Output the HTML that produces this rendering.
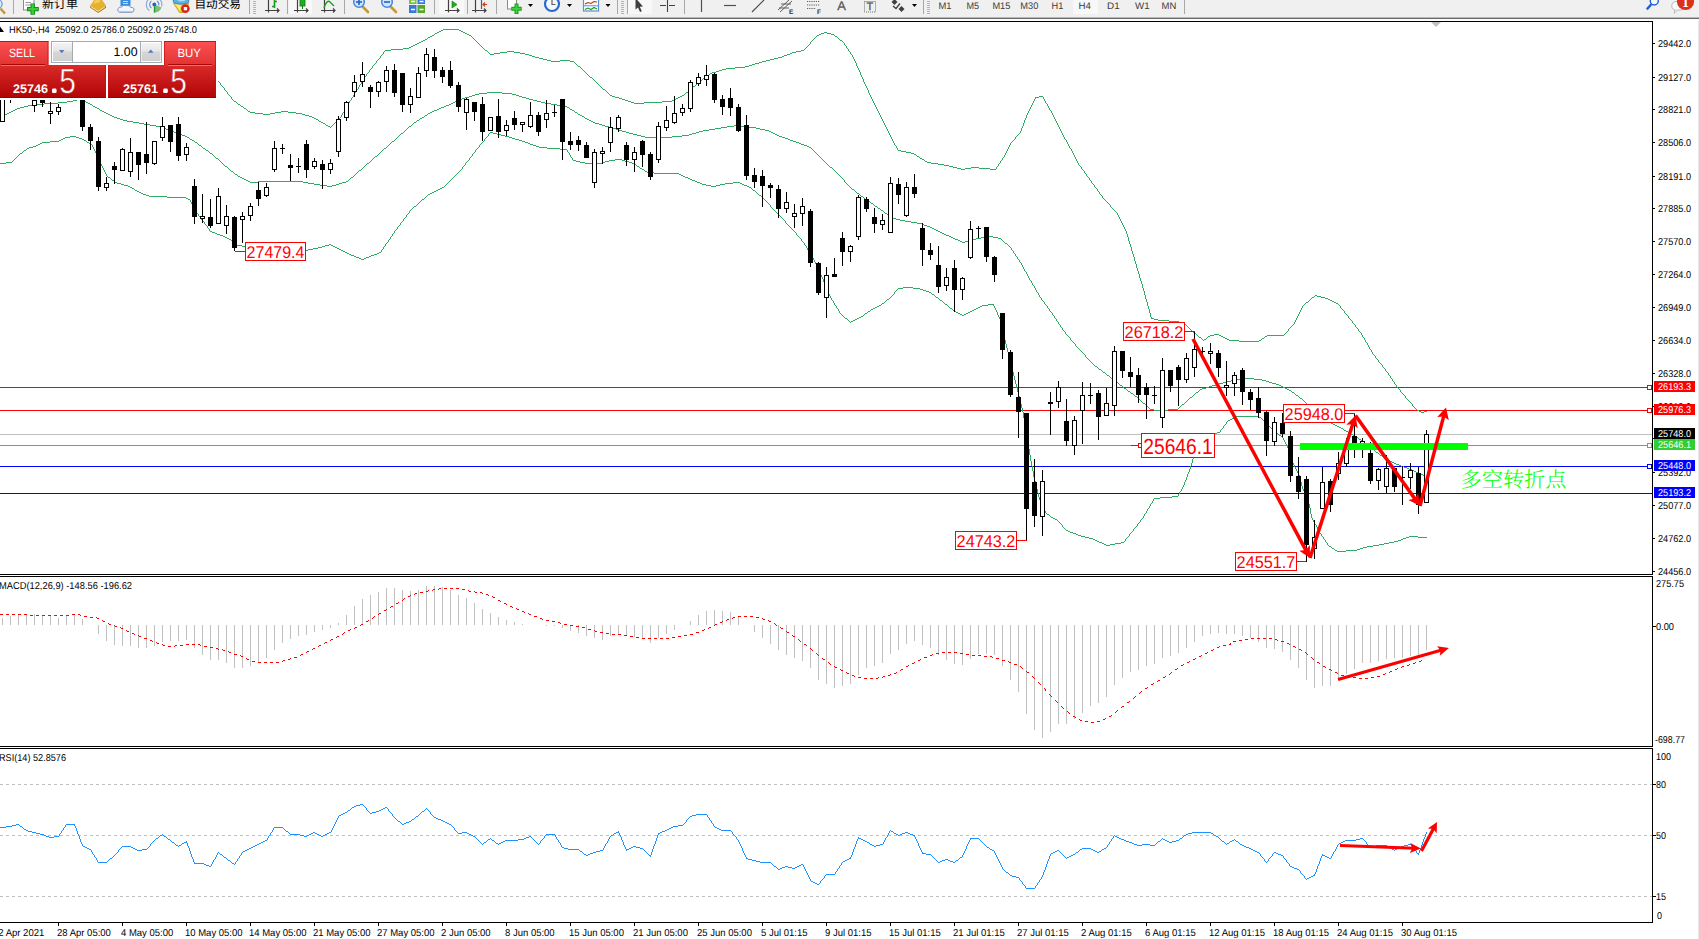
<!DOCTYPE html>
<html lang="zh"><head><meta charset="utf-8"><title>HK50-,H4</title>
<style>html,body{margin:0;padding:0;background:#fff;overflow:hidden}svg{display:block}</style></head>
<body>
<svg width="1699" height="939" viewBox="0 0 1699 939" font-family='"Liberation Sans", sans-serif' text-rendering="geometricPrecision" style="display:block">
<defs>
<linearGradient id="gTop" gradientUnits="userSpaceOnUse" x1="0" y1="41" x2="0" y2="65.5"><stop offset="0" stop-color="#fc5252"/><stop offset="1" stop-color="#e23232"/></linearGradient>
<linearGradient id="gBot" gradientUnits="userSpaceOnUse" x1="0" y1="65" x2="0" y2="98"><stop offset="0" stop-color="#da2a2a"/><stop offset="1" stop-color="#b00404"/></linearGradient>
<linearGradient id="gBtn" x1="0" y1="0" x2="0" y2="1"><stop offset="0" stop-color="#f4f4f4"/><stop offset="0.45" stop-color="#e6e6e6"/><stop offset="0.5" stop-color="#d6d6d6"/><stop offset="1" stop-color="#cfcfcf"/></linearGradient>
<clipPath id="cMain"><rect x="0" y="22" width="1652" height="552"/></clipPath>
<clipPath id="cMacd"><rect x="0" y="577" width="1652" height="169"/></clipPath>
<clipPath id="cRsi"><rect x="0" y="749" width="1652" height="173"/></clipPath>
</defs>
<rect width="1699" height="939" fill="#fff"/>
<g clip-path="url(#cMain)">
<g shape-rendering="crispEdges">
<rect x="0" y="387" width="1652" height="1" fill="#ff0000"/>
<rect x="0" y="410" width="1652" height="1" fill="#ff0000"/>
<rect x="0" y="434" width="1652" height="1" fill="#c0c0c0"/>
<rect x="0" y="445" width="1652" height="1" fill="#32cd32"/>
<rect x="0" y="466" width="1652" height="1" fill="#0000ff"/>
<rect x="0" y="493" width="1652" height="1" fill="#0000ff"/>
</g>
<path d="M443 29h16v1h-16zM441 30h2v1h-2zM459 30h2v1h-2zM439 31h2v1h-2zM461 31h2v1h-2zM437 32h2v1h-2zM463 32h2v1h-2zM824 32h3v1h-3zM435 33h2v1h-2zM465 33h2v1h-2zM821 33h3v1h-3zM827 33h4v1h-4zM467 34h2v1h-2zM819 34h2v1h-2zM831 34h3v1h-3zM432 35h2v1h-2zM469 35h2v1h-2zM817 35h2v1h-2zM430 36h2v1h-2zM835 36h2v1h-2zM428 37h2v1h-2zM425 39h2v1h-2zM423 40h2v1h-2zM840 40h2v1h-2zM421 41h2v1h-2zM419 42h2v1h-2zM417 43h2v1h-2zM415 44h2v1h-2zM413 45h2v1h-2zM411 46h2v1h-2zM409 47h2v1h-2zM403 48h6v1h-6zM391 49h12v1h-12zM385 50h6v1h-6zM485 50h2v1h-2zM801 50h3v1h-3zM507 51h7v1h-7zM796 51h5v1h-5zM500 52h7v1h-7zM514 52h6v1h-6zM792 52h4v1h-4zM494 53h6v1h-6zM520 53h5v1h-5zM790 53h2v1h-2zM490 54h4v1h-4zM525 54h4v1h-4zM787 54h3v1h-3zM529 55h3v1h-3zM784 55h3v1h-3zM532 56h3v1h-3zM782 56h2v1h-2zM535 57h4v1h-4zM778 57h4v1h-4zM539 58h4v1h-4zM774 58h4v1h-4zM543 59h4v1h-4zM770 59h4v1h-4zM547 60h4v1h-4zM560 60h10v1h-10zM766 60h4v1h-4zM551 61h9v1h-9zM570 61h4v1h-4zM762 61h4v1h-4zM759 62h3v1h-3zM755 63h4v1h-4zM752 64h3v1h-3zM749 65h3v1h-3zM578 66h2v1h-2zM745 66h4v1h-4zM735 67h10v1h-10zM726 68h9v1h-9zM722 69h4v1h-4zM719 70h3v1h-3zM716 71h3v1h-3zM712 72h4v1h-4zM710 73h2v1h-2zM707 75h2v1h-2zM590 77h2v1h-2zM703 78h2v1h-2zM699 81h2v1h-2zM693 86h2v1h-2zM603 89h2v1h-2zM686 92h2v1h-2zM610 95h2v1h-2zM682 95h2v1h-2zM612 96h3v1h-3zM680 96h2v1h-2zM1039 96h4v1h-4zM615 97h4v1h-4zM678 97h2v1h-2zM1035 97h4v1h-4zM619 98h3v1h-3zM676 98h2v1h-2zM622 99h3v1h-3zM674 99h2v1h-2zM625 100h3v1h-3zM672 100h2v1h-2zM234 101h2v1h-2zM628 101h3v1h-3zM662 101h10v1h-10zM631 102h3v1h-3zM644 102h18v1h-18zM634 103h10v1h-10zM238 104h2v1h-2zM241 106h2v1h-2zM244 108h2v1h-2zM248 111h2v1h-2zM281 111h7v1h-7zM250 112h5v1h-5zM275 112h6v1h-6zM288 112h8v1h-8zM255 113h8v1h-8zM270 113h5v1h-5zM296 113h6v1h-6zM263 114h7v1h-7zM302 114h3v1h-3zM305 115h4v1h-4zM309 116h3v1h-3zM312 117h2v1h-2zM314 118h2v1h-2zM316 119h2v1h-2zM319 121h2v1h-2zM321 122h2v1h-2zM323 123h2v1h-2zM326 125h2v1h-2zM328 126h2v1h-2zM898 150h3v1h-3zM901 151h5v1h-5zM906 152h5v1h-5zM911 153h3v1h-3zM914 154h2v1h-2zM917 156h2v1h-2zM920 158h2v1h-2zM922 159h2v1h-2zM925 161h2v1h-2zM927 162h4v1h-4zM931 163h7v1h-7zM938 164h6v1h-6zM944 165h5v1h-5zM949 166h4v1h-4zM953 167h4v1h-4zM971 167h8v1h-8zM957 168h4v1h-4zM965 168h6v1h-6zM979 168h11v1h-11zM961 169h4v1h-4zM990 169h6v1h-6zM1315 295h2v1h-2zM1317 296h4v1h-4zM1312 297h2v1h-2zM1321 297h4v1h-4zM1325 298h3v1h-3zM1328 299h2v1h-2zM1330 300h2v1h-2zM1332 301h2v1h-2zM1306 302h2v1h-2zM1334 302h2v1h-2zM1336 303h2v1h-2zM1151 318h3v1h-3zM1154 319h4v1h-4zM1158 320h11v1h-11zM1169 321h10v1h-10zM1179 322h2v1h-2zM1181 323h3v1h-3zM1184 324h2v1h-2zM1194 333h2v1h-2zM1214 334h5v1h-5zM1210 335h4v1h-4zM1219 335h2v1h-2zM1267 335h17v1h-17zM1208 336h2v1h-2zM1221 336h2v1h-2zM1265 336h2v1h-2zM1199 337h2v1h-2zM1223 337h2v1h-2zM1225 338h2v1h-2zM1262 338h2v1h-2zM1204 339h2v1h-2zM1227 339h2v1h-2zM1229 340h10v1h-10zM1259 340h2v1h-2zM1239 341h20v1h-20zM1417 410h2v1h-2zM1419 411h2v1h-2zM1424 411h3v1h-3zM1421 412h3v1h-3zM218 81h1v1h-1zM219 82h1v1h-1zM220 83h1v2h-1zM221 85h1v1h-1zM222 86h1v1h-1zM223 87h1v1h-1zM224 88h1v2h-1zM225 90h1v1h-1zM226 91h1v1h-1zM227 92h1v2h-1zM228 94h1v1h-1zM229 95h1v1h-1zM230 96h1v1h-1zM231 97h1v2h-1zM232 99h1v1h-1zM233 100h1v1h-1zM236 102h1v1h-1zM237 103h1v1h-1zM240 105h1v1h-1zM243 107h1v1h-1zM246 109h1v1h-1zM247 110h1v1h-1zM318 120h1v1h-1zM325 124h1v1h-1zM330 127h1v1h-1zM331 126h1v1h-1zM332 125h1v1h-1zM333 124h1v1h-1zM334 123h1v1h-1zM335 122h1v1h-1zM336 121h1v1h-1zM337 120h1v1h-1zM338 119h1v1h-1zM339 118h1v1h-1zM340 117h1v1h-1zM341 115h1v2h-1zM342 113h1v2h-1zM343 112h1v1h-1zM344 110h1v2h-1zM345 108h1v2h-1zM346 106h1v2h-1zM347 105h1v1h-1zM348 103h1v2h-1zM349 101h1v2h-1zM350 100h1v1h-1zM351 98h1v2h-1zM352 97h1v1h-1zM353 95h1v2h-1zM354 93h1v2h-1zM355 92h1v1h-1zM356 90h1v2h-1zM357 89h1v1h-1zM358 87h1v2h-1zM359 85h1v2h-1zM360 84h1v1h-1zM361 82h1v2h-1zM362 81h1v1h-1zM363 79h1v2h-1zM364 77h1v2h-1zM365 76h1v1h-1zM366 74h1v2h-1zM367 73h1v1h-1zM368 72h1v1h-1zM369 70h1v2h-1zM370 69h1v1h-1zM371 68h1v1h-1zM372 66h1v2h-1zM373 65h1v1h-1zM374 64h1v1h-1zM375 63h1v1h-1zM376 61h1v2h-1zM377 60h1v1h-1zM378 59h1v1h-1zM379 58h1v1h-1zM380 56h1v2h-1zM381 55h1v1h-1zM382 54h1v1h-1zM383 52h1v2h-1zM384 51h1v1h-1zM427 38h1v1h-1zM434 34h1v1h-1zM471 36h1v1h-1zM472 37h1v1h-1zM473 38h1v1h-1zM474 39h1v1h-1zM475 40h1v1h-1zM476 41h1v1h-1zM477 42h1v1h-1zM478 43h1v1h-1zM479 44h1v1h-1zM480 45h1v1h-1zM481 46h1v1h-1zM482 47h1v1h-1zM483 48h1v1h-1zM484 49h1v1h-1zM487 51h1v1h-1zM488 52h1v1h-1zM489 53h1v1h-1zM574 62h1v1h-1zM575 63h1v1h-1zM576 64h1v1h-1zM577 65h1v1h-1zM580 67h1v1h-1zM581 68h1v1h-1zM582 69h1v1h-1zM583 70h1v1h-1zM584 71h1v1h-1zM585 72h1v1h-1zM586 73h1v1h-1zM587 74h1v1h-1zM588 75h1v1h-1zM589 76h1v1h-1zM592 78h1v1h-1zM593 79h1v1h-1zM594 80h1v1h-1zM595 81h1v1h-1zM596 82h1v1h-1zM597 83h1v1h-1zM598 84h1v1h-1zM599 85h1v1h-1zM600 86h1v1h-1zM601 87h1v1h-1zM602 88h1v1h-1zM605 90h1v1h-1zM606 91h1v1h-1zM607 92h1v1h-1zM608 93h1v1h-1zM609 94h1v1h-1zM684 94h1v1h-1zM685 93h1v1h-1zM688 91h1v1h-1zM689 90h1v1h-1zM690 89h1v1h-1zM691 88h1v1h-1zM692 87h1v1h-1zM695 85h1v1h-1zM696 84h1v1h-1zM697 83h1v1h-1zM698 82h1v1h-1zM701 80h1v1h-1zM702 79h1v1h-1zM705 77h1v1h-1zM706 76h1v1h-1zM709 74h1v1h-1zM804 49h1v1h-1zM805 48h1v1h-1zM806 47h1v1h-1zM807 46h1v1h-1zM808 45h1v1h-1zM809 44h1v1h-1zM810 42h1v2h-1zM811 41h1v1h-1zM812 40h1v1h-1zM813 39h1v1h-1zM814 38h1v1h-1zM815 37h1v1h-1zM816 36h1v1h-1zM834 35h1v1h-1zM837 37h1v1h-1zM838 38h1v1h-1zM839 39h1v1h-1zM842 41h1v1h-1zM843 42h1v1h-1zM844 43h1v2h-1zM845 45h1v1h-1zM846 46h1v2h-1zM847 48h1v1h-1zM848 49h1v2h-1zM849 51h1v1h-1zM850 52h1v2h-1zM851 54h1v1h-1zM852 55h1v2h-1zM853 57h1v2h-1zM854 59h1v2h-1zM855 61h1v2h-1zM856 63h1v3h-1zM857 66h1v2h-1zM858 68h1v2h-1zM859 70h1v2h-1zM860 72h1v3h-1zM861 75h1v2h-1zM862 77h1v2h-1zM863 79h1v3h-1zM864 82h1v2h-1zM865 84h1v2h-1zM866 86h1v2h-1zM867 88h1v2h-1zM868 90h1v3h-1zM869 93h1v2h-1zM870 95h1v2h-1zM871 97h1v2h-1zM872 99h1v2h-1zM873 101h1v2h-1zM874 103h1v2h-1zM875 105h1v2h-1zM876 107h1v2h-1zM877 109h1v2h-1zM878 111h1v2h-1zM879 113h1v2h-1zM880 115h1v2h-1zM881 117h1v2h-1zM882 119h1v2h-1zM883 121h1v2h-1zM884 123h1v2h-1zM885 125h1v2h-1zM886 127h1v2h-1zM887 129h1v2h-1zM888 131h1v2h-1zM889 133h1v2h-1zM890 135h1v2h-1zM891 137h1v2h-1zM892 139h1v2h-1zM893 141h1v2h-1zM894 143h1v2h-1zM895 145h1v1h-1zM896 146h1v2h-1zM897 148h1v2h-1zM916 155h1v1h-1zM919 157h1v1h-1zM924 160h1v1h-1zM996 167h1v2h-1zM997 166h1v1h-1zM998 164h1v2h-1zM999 163h1v1h-1zM1000 161h1v2h-1zM1001 160h1v1h-1zM1002 158h1v2h-1zM1003 157h1v1h-1zM1004 155h1v2h-1zM1005 153h1v2h-1zM1006 151h1v2h-1zM1007 149h1v2h-1zM1008 147h1v2h-1zM1009 145h1v2h-1zM1010 143h1v2h-1zM1011 142h1v1h-1zM1012 141h1v1h-1zM1013 140h1v1h-1zM1014 139h1v1h-1zM1015 137h1v2h-1zM1016 136h1v1h-1zM1017 135h1v1h-1zM1018 134h1v1h-1zM1019 133h1v1h-1zM1020 131h1v2h-1zM1021 128h1v3h-1zM1022 126h1v2h-1zM1023 123h1v3h-1zM1024 120h1v3h-1zM1025 118h1v2h-1zM1026 115h1v3h-1zM1027 113h1v2h-1zM1028 111h1v2h-1zM1029 109h1v2h-1zM1030 107h1v2h-1zM1031 105h1v2h-1zM1032 103h1v2h-1zM1033 101h1v2h-1zM1034 99h1v2h-1zM1035 98h1v1h-1zM1043 97h1v2h-1zM1044 99h1v2h-1zM1045 101h1v2h-1zM1046 103h1v1h-1zM1047 104h1v2h-1zM1048 106h1v2h-1zM1049 108h1v2h-1zM1050 110h1v1h-1zM1051 111h1v2h-1zM1052 113h1v2h-1zM1053 115h1v2h-1zM1054 117h1v2h-1zM1055 119h1v2h-1zM1056 121h1v2h-1zM1057 123h1v2h-1zM1058 125h1v2h-1zM1059 127h1v2h-1zM1060 129h1v2h-1zM1061 131h1v2h-1zM1062 133h1v2h-1zM1063 135h1v2h-1zM1064 137h1v2h-1zM1065 139h1v1h-1zM1066 140h1v2h-1zM1067 142h1v2h-1zM1068 144h1v2h-1zM1069 146h1v2h-1zM1070 148h1v1h-1zM1071 149h1v2h-1zM1072 151h1v2h-1zM1073 153h1v2h-1zM1074 155h1v2h-1zM1075 157h1v2h-1zM1076 159h1v2h-1zM1077 161h1v2h-1zM1078 163h1v2h-1zM1079 165h1v1h-1zM1080 166h1v1h-1zM1081 167h1v2h-1zM1082 169h1v1h-1zM1083 170h1v1h-1zM1084 171h1v2h-1zM1085 173h1v1h-1zM1086 174h1v2h-1zM1087 176h1v1h-1zM1088 177h1v1h-1zM1089 178h1v2h-1zM1090 180h1v1h-1zM1091 181h1v2h-1zM1092 183h1v1h-1zM1093 184h1v1h-1zM1094 185h1v2h-1zM1095 187h1v1h-1zM1096 188h1v1h-1zM1097 189h1v2h-1zM1098 191h1v1h-1zM1099 192h1v2h-1zM1100 194h1v1h-1zM1101 195h1v1h-1zM1102 196h1v2h-1zM1103 198h1v1h-1zM1104 199h1v1h-1zM1105 200h1v1h-1zM1106 201h1v1h-1zM1107 202h1v1h-1zM1108 203h1v1h-1zM1109 204h1v1h-1zM1110 205h1v2h-1zM1111 207h1v1h-1zM1112 208h1v1h-1zM1113 209h1v1h-1zM1114 210h1v1h-1zM1115 211h1v1h-1zM1116 212h1v1h-1zM1117 213h1v2h-1zM1118 215h1v2h-1zM1119 217h1v2h-1zM1120 219h1v2h-1zM1121 221h1v2h-1zM1122 223h1v2h-1zM1123 225h1v2h-1zM1124 227h1v2h-1zM1125 229h1v2h-1zM1126 231h1v3h-1zM1127 234h1v3h-1zM1128 237h1v4h-1zM1129 241h1v3h-1zM1130 244h1v3h-1zM1131 247h1v4h-1zM1132 251h1v3h-1zM1133 254h1v3h-1zM1134 257h1v4h-1zM1135 261h1v3h-1zM1136 264h1v4h-1zM1137 268h1v3h-1zM1138 271h1v3h-1zM1139 274h1v4h-1zM1140 278h1v3h-1zM1141 281h1v3h-1zM1142 284h1v4h-1zM1143 288h1v3h-1zM1144 291h1v4h-1zM1145 295h1v4h-1zM1146 299h1v3h-1zM1147 302h1v4h-1zM1148 306h1v3h-1zM1149 309h1v4h-1zM1150 313h1v4h-1zM1151 317h1v1h-1zM1186 325h1v1h-1zM1187 326h1v1h-1zM1188 327h1v1h-1zM1189 328h1v1h-1zM1190 329h1v1h-1zM1191 330h1v1h-1zM1192 331h1v1h-1zM1193 332h1v1h-1zM1196 334h1v1h-1zM1197 335h1v1h-1zM1198 336h1v1h-1zM1201 338h1v1h-1zM1202 339h1v1h-1zM1203 340h1v1h-1zM1206 338h1v1h-1zM1207 337h1v1h-1zM1261 339h1v1h-1zM1264 337h1v1h-1zM1284 334h1v1h-1zM1285 333h1v1h-1zM1286 332h1v1h-1zM1287 331h1v1h-1zM1288 329h1v2h-1zM1289 328h1v1h-1zM1290 327h1v1h-1zM1291 326h1v1h-1zM1292 325h1v1h-1zM1293 324h1v1h-1zM1294 322h1v2h-1zM1295 320h1v2h-1zM1296 318h1v2h-1zM1297 316h1v2h-1zM1298 314h1v2h-1zM1299 312h1v2h-1zM1300 310h1v2h-1zM1301 308h1v2h-1zM1302 306h1v2h-1zM1303 305h1v1h-1zM1304 304h1v1h-1zM1305 303h1v1h-1zM1308 301h1v1h-1zM1309 300h1v1h-1zM1310 299h1v1h-1zM1311 298h1v1h-1zM1314 296h1v1h-1zM1338 304h1v1h-1zM1339 305h1v1h-1zM1340 306h1v2h-1zM1341 308h1v1h-1zM1342 309h1v1h-1zM1343 310h1v1h-1zM1344 311h1v2h-1zM1345 313h1v1h-1zM1346 314h1v1h-1zM1347 315h1v1h-1zM1348 316h1v2h-1zM1349 318h1v1h-1zM1350 319h1v1h-1zM1351 320h1v1h-1zM1352 321h1v2h-1zM1353 323h1v1h-1zM1354 324h1v1h-1zM1355 325h1v2h-1zM1356 327h1v1h-1zM1357 328h1v1h-1zM1358 329h1v2h-1zM1359 331h1v1h-1zM1360 332h1v1h-1zM1361 333h1v2h-1zM1362 335h1v2h-1zM1363 337h1v1h-1zM1364 338h1v2h-1zM1365 340h1v2h-1zM1366 342h1v1h-1zM1367 343h1v2h-1zM1368 345h1v2h-1zM1369 347h1v2h-1zM1370 349h1v1h-1zM1371 350h1v2h-1zM1372 352h1v2h-1zM1373 354h1v1h-1zM1374 355h1v1h-1zM1375 356h1v2h-1zM1376 358h1v1h-1zM1377 359h1v1h-1zM1378 360h1v2h-1zM1379 362h1v1h-1zM1380 363h1v1h-1zM1381 364h1v1h-1zM1382 365h1v2h-1zM1383 367h1v1h-1zM1384 368h1v1h-1zM1385 369h1v2h-1zM1386 371h1v1h-1zM1387 372h1v1h-1zM1388 373h1v2h-1zM1389 375h1v1h-1zM1390 376h1v2h-1zM1391 378h1v1h-1zM1392 379h1v2h-1zM1393 381h1v1h-1zM1394 382h1v2h-1zM1395 384h1v1h-1zM1396 385h1v2h-1zM1397 387h1v1h-1zM1398 388h1v1h-1zM1399 389h1v1h-1zM1400 390h1v2h-1zM1401 392h1v1h-1zM1402 393h1v1h-1zM1403 394h1v1h-1zM1404 395h1v1h-1zM1405 396h1v2h-1zM1406 398h1v1h-1zM1407 399h1v1h-1zM1408 400h1v1h-1zM1409 401h1v1h-1zM1410 402h1v1h-1zM1411 403h1v1h-1zM1412 404h1v2h-1zM1413 406h1v1h-1zM1414 407h1v1h-1zM1415 408h1v1h-1zM1416 409h1v1h-1z" fill="#2eaa62" shape-rendering="crispEdges"/>
<path d="M487 92h15v1h-15zM479 93h8v1h-8zM502 93h10v1h-10zM475 94h4v1h-4zM512 94h4v1h-4zM472 95h3v1h-3zM516 95h3v1h-3zM469 96h3v1h-3zM519 96h3v1h-3zM465 97h4v1h-4zM522 97h4v1h-4zM462 98h3v1h-3zM526 98h3v1h-3zM77 99h3v1h-3zM460 99h2v1h-2zM529 99h4v1h-4zM73 100h4v1h-4zM80 100h4v1h-4zM458 100h2v1h-2zM533 100h4v1h-4zM67 101h6v1h-6zM84 101h2v1h-2zM455 101h3v1h-3zM537 101h4v1h-4zM58 102h9v1h-9zM86 102h2v1h-2zM453 102h2v1h-2zM541 102h4v1h-4zM44 103h14v1h-14zM88 103h2v1h-2zM451 103h2v1h-2zM545 103h6v1h-6zM32 104h12v1h-12zM90 104h2v1h-2zM449 104h2v1h-2zM551 104h6v1h-6zM28 105h4v1h-4zM446 105h3v1h-3zM557 105h6v1h-6zM24 106h4v1h-4zM93 106h2v1h-2zM444 106h2v1h-2zM563 106h4v1h-4zM20 107h4v1h-4zM95 107h2v1h-2zM441 107h3v1h-3zM567 107h2v1h-2zM17 108h3v1h-3zM97 108h2v1h-2zM439 108h2v1h-2zM15 109h2v1h-2zM437 109h2v1h-2zM570 109h2v1h-2zM13 110h2v1h-2zM100 110h2v1h-2zM434 110h3v1h-3zM572 110h2v1h-2zM11 111h2v1h-2zM102 111h2v1h-2zM432 111h2v1h-2zM9 112h2v1h-2zM104 112h2v1h-2zM430 112h2v1h-2zM575 112h2v1h-2zM7 113h2v1h-2zM106 113h2v1h-2zM428 113h2v1h-2zM5 114h2v1h-2zM108 114h2v1h-2zM578 114h2v1h-2zM3 115h2v1h-2zM110 115h2v1h-2zM425 115h2v1h-2zM580 115h2v1h-2zM1 116h2v1h-2zM112 116h2v1h-2zM582 116h2v1h-2zM114 117h3v1h-3zM422 117h2v1h-2zM117 118h3v1h-3zM420 118h2v1h-2zM585 118h2v1h-2zM120 119h3v1h-3zM587 119h2v1h-2zM123 120h4v1h-4zM417 120h2v1h-2zM589 120h2v1h-2zM127 121h6v1h-6zM591 121h2v1h-2zM133 122h6v1h-6zM414 122h2v1h-2zM593 122h2v1h-2zM139 123h5v1h-5zM595 123h4v1h-4zM144 124h6v1h-6zM599 124h3v1h-3zM150 125h6v1h-6zM602 125h3v1h-3zM734 125h7v1h-7zM156 126h5v1h-5zM409 126h2v1h-2zM605 126h4v1h-4zM727 126h7v1h-7zM741 126h8v1h-8zM161 127h2v1h-2zM609 127h3v1h-3zM721 127h6v1h-6zM749 127h7v1h-7zM163 128h3v1h-3zM612 128h4v1h-4zM715 128h6v1h-6zM756 128h4v1h-4zM166 129h2v1h-2zM616 129h3v1h-3zM709 129h6v1h-6zM760 129h5v1h-5zM168 130h3v1h-3zM619 130h3v1h-3zM703 130h6v1h-6zM765 130h4v1h-4zM171 131h3v1h-3zM622 131h4v1h-4zM699 131h4v1h-4zM769 131h2v1h-2zM174 132h2v1h-2zM626 132h3v1h-3zM696 132h3v1h-3zM771 132h2v1h-2zM176 133h3v1h-3zM401 133h2v1h-2zM629 133h4v1h-4zM692 133h4v1h-4zM773 133h2v1h-2zM179 134h3v1h-3zM633 134h4v1h-4zM689 134h3v1h-3zM775 134h2v1h-2zM182 135h3v1h-3zM637 135h4v1h-4zM682 135h7v1h-7zM777 135h2v1h-2zM185 136h2v1h-2zM641 136h4v1h-4zM672 136h10v1h-10zM779 136h3v1h-3zM187 137h2v1h-2zM645 137h27v1h-27zM782 137h3v1h-3zM785 138h3v1h-3zM190 139h2v1h-2zM788 139h2v1h-2zM192 140h2v1h-2zM790 140h3v1h-3zM392 141h2v1h-2zM793 141h3v1h-3zM195 142h2v1h-2zM796 142h3v1h-3zM799 143h2v1h-2zM801 144h3v1h-3zM199 145h2v1h-2zM804 145h3v1h-3zM807 146h2v1h-2zM809 147h2v1h-2zM203 148h2v1h-2zM384 148h2v1h-2zM206 150h2v1h-2zM210 153h2v1h-2zM375 156h2v1h-2zM216 158h2v1h-2zM367 163h2v1h-2zM225 166h2v1h-2zM830 167h2v1h-2zM359 170h2v1h-2zM231 171h2v1h-2zM235 174h2v1h-2zM238 176h2v1h-2zM240 177h2v1h-2zM351 177h2v1h-2zM242 178h2v1h-2zM244 179h2v1h-2zM246 180h2v1h-2zM248 181h2v1h-2zM258 181h45v1h-45zM346 181h2v1h-2zM250 182h8v1h-8zM303 182h5v1h-5zM342 182h4v1h-4zM308 183h6v1h-6zM339 183h3v1h-3zM314 184h6v1h-6zM336 184h3v1h-3zM320 185h7v1h-7zM332 185h4v1h-4zM327 186h5v1h-5zM852 189h2v1h-2zM857 193h2v1h-2zM861 196h2v1h-2zM865 199h2v1h-2zM868 201h2v1h-2zM871 203h2v1h-2zM875 206h2v1h-2zM878 208h2v1h-2zM881 210h2v1h-2zM885 213h2v1h-2zM888 215h2v1h-2zM891 217h2v1h-2zM893 218h3v1h-3zM896 219h4v1h-4zM900 220h5v1h-5zM905 221h6v1h-6zM911 222h6v1h-6zM917 223h5v1h-5zM922 224h2v1h-2zM924 225h3v1h-3zM927 226h3v1h-3zM930 227h2v1h-2zM932 228h2v1h-2zM934 229h2v1h-2zM936 230h2v1h-2zM938 231h2v1h-2zM940 232h2v1h-2zM942 233h2v1h-2zM944 234h2v1h-2zM946 235h3v1h-3zM949 236h2v1h-2zM987 236h6v1h-6zM951 237h2v1h-2zM981 237h6v1h-6zM993 237h5v1h-5zM953 238h2v1h-2zM976 238h5v1h-5zM998 238h3v1h-3zM955 239h3v1h-3zM972 239h4v1h-4zM958 240h2v1h-2zM969 240h3v1h-3zM960 241h2v1h-2zM965 241h4v1h-4zM962 242h3v1h-3zM1005 243h2v1h-2zM1095 366h2v1h-2zM1099 369h2v1h-2zM1103 372h2v1h-2zM1107 375h2v1h-2zM1111 378h2v1h-2zM1244 378h10v1h-10zM1237 379h7v1h-7zM1254 379h8v1h-8zM1231 380h6v1h-6zM1262 380h4v1h-4zM1115 381h2v1h-2zM1227 381h4v1h-4zM1266 381h3v1h-3zM1223 382h4v1h-4zM1269 382h3v1h-3zM1219 383h4v1h-4zM1272 383h4v1h-4zM1216 384h3v1h-3zM1276 384h3v1h-3zM1120 385h2v1h-2zM1212 385h4v1h-4zM1279 385h2v1h-2zM1209 386h3v1h-3zM1281 386h2v1h-2zM1206 387h3v1h-3zM1283 387h2v1h-2zM1124 388h2v1h-2zM1202 388h4v1h-4zM1285 388h2v1h-2zM1200 389h2v1h-2zM1287 389h2v1h-2zM1289 390h2v1h-2zM1128 391h2v1h-2zM1196 392h2v1h-2zM1292 392h2v1h-2zM1131 393h2v1h-2zM1296 395h2v1h-2zM1135 396h2v1h-2zM1190 397h2v1h-2zM1300 398h2v1h-2zM1143 403h2v1h-2zM1182 404h2v1h-2zM1308 405h2v1h-2zM1150 409h4v1h-4zM1168 409h10v1h-10zM1154 410h14v1h-14zM1315 411h2v1h-2zM1319 414h2v1h-2zM1323 417h2v1h-2zM1327 420h2v1h-2zM1331 423h2v1h-2zM1333 424h2v1h-2zM1335 425h2v1h-2zM1337 426h2v1h-2zM1339 427h2v1h-2zM1341 428h2v1h-2zM1344 430h2v1h-2zM1346 431h2v1h-2zM1348 432h2v1h-2zM1351 434h2v1h-2zM1353 435h2v1h-2zM1355 436h2v1h-2zM1359 439h2v1h-2zM1363 442h2v1h-2zM1367 445h2v1h-2zM1372 449h2v1h-2zM1376 452h2v1h-2zM1380 455h2v1h-2zM1384 458h2v1h-2zM1386 459h2v1h-2zM1388 460h2v1h-2zM1390 461h2v1h-2zM1392 462h2v1h-2zM1394 463h2v1h-2zM1396 464h3v1h-3zM1399 465h2v1h-2zM1401 466h3v1h-3zM1404 467h3v1h-3zM1407 468h2v1h-2zM1409 469h3v1h-3zM1412 470h2v1h-2zM1414 471h2v1h-2zM1416 472h2v1h-2zM1418 473h3v1h-3zM1421 474h2v1h-2zM1423 475h2v1h-2zM1425 476h2v1h-2zM0 117h1v1h-1zM92 105h1v1h-1zM99 109h1v1h-1zM189 138h1v1h-1zM194 141h1v1h-1zM197 143h1v1h-1zM198 144h1v1h-1zM201 146h1v1h-1zM202 147h1v1h-1zM205 149h1v1h-1zM208 151h1v1h-1zM209 152h1v1h-1zM212 154h1v1h-1zM213 155h1v1h-1zM214 156h1v1h-1zM215 157h1v1h-1zM218 159h1v1h-1zM219 160h1v1h-1zM220 161h1v1h-1zM221 162h1v1h-1zM222 163h1v1h-1zM223 164h1v1h-1zM224 165h1v1h-1zM227 167h1v1h-1zM228 168h1v1h-1zM229 169h1v1h-1zM230 170h1v1h-1zM233 172h1v1h-1zM234 173h1v1h-1zM237 175h1v1h-1zM348 180h1v1h-1zM349 179h1v1h-1zM350 178h1v1h-1zM353 176h1v1h-1zM354 175h1v1h-1zM355 174h1v1h-1zM356 173h1v1h-1zM357 172h1v1h-1zM358 171h1v1h-1zM361 169h1v1h-1zM362 168h1v1h-1zM363 167h1v1h-1zM364 166h1v1h-1zM365 165h1v1h-1zM366 164h1v1h-1zM369 162h1v1h-1zM370 161h1v1h-1zM371 160h1v1h-1zM372 159h1v1h-1zM373 158h1v1h-1zM374 157h1v1h-1zM377 155h1v1h-1zM378 154h1v1h-1zM379 153h1v1h-1zM380 152h1v1h-1zM381 151h1v1h-1zM382 150h1v1h-1zM383 149h1v1h-1zM386 147h1v1h-1zM387 146h1v1h-1zM388 145h1v1h-1zM389 144h1v1h-1zM390 143h1v1h-1zM391 142h1v1h-1zM394 140h1v1h-1zM395 139h1v1h-1zM396 138h1v1h-1zM397 137h1v1h-1zM398 136h1v1h-1zM399 135h1v1h-1zM400 134h1v1h-1zM403 132h1v1h-1zM404 131h1v1h-1zM405 130h1v1h-1zM406 129h1v1h-1zM407 128h1v1h-1zM408 127h1v1h-1zM411 125h1v1h-1zM412 124h1v1h-1zM413 123h1v1h-1zM416 121h1v1h-1zM419 119h1v1h-1zM424 116h1v1h-1zM427 114h1v1h-1zM569 108h1v1h-1zM574 111h1v1h-1zM577 113h1v1h-1zM584 117h1v1h-1zM811 148h1v1h-1zM812 149h1v1h-1zM813 150h1v1h-1zM814 151h1v1h-1zM815 152h1v1h-1zM816 153h1v1h-1zM817 154h1v1h-1zM818 155h1v1h-1zM819 156h1v1h-1zM820 157h1v1h-1zM821 158h1v1h-1zM822 159h1v1h-1zM823 160h1v1h-1zM824 161h1v1h-1zM825 162h1v1h-1zM826 163h1v1h-1zM827 164h1v1h-1zM828 165h1v1h-1zM829 166h1v1h-1zM832 168h1v1h-1zM833 169h1v1h-1zM834 170h1v1h-1zM835 171h1v1h-1zM836 172h1v1h-1zM837 173h1v1h-1zM838 174h1v1h-1zM839 175h1v1h-1zM840 176h1v1h-1zM841 177h1v1h-1zM842 178h1v1h-1zM843 179h1v1h-1zM844 180h1v2h-1zM845 182h1v1h-1zM846 183h1v1h-1zM847 184h1v1h-1zM848 185h1v1h-1zM849 186h1v1h-1zM850 187h1v1h-1zM851 188h1v1h-1zM854 190h1v1h-1zM855 191h1v1h-1zM856 192h1v1h-1zM859 194h1v1h-1zM860 195h1v1h-1zM863 197h1v1h-1zM864 198h1v1h-1zM867 200h1v1h-1zM870 202h1v1h-1zM873 204h1v1h-1zM874 205h1v1h-1zM877 207h1v1h-1zM880 209h1v1h-1zM883 211h1v1h-1zM884 212h1v1h-1zM887 214h1v1h-1zM890 216h1v1h-1zM1001 239h1v1h-1zM1002 240h1v1h-1zM1003 241h1v1h-1zM1004 242h1v1h-1zM1007 244h1v1h-1zM1008 245h1v1h-1zM1009 246h1v1h-1zM1010 247h1v1h-1zM1011 248h1v2h-1zM1012 250h1v1h-1zM1013 251h1v2h-1zM1014 253h1v1h-1zM1015 254h1v2h-1zM1016 256h1v1h-1zM1017 257h1v2h-1zM1018 259h1v1h-1zM1019 260h1v2h-1zM1020 262h1v1h-1zM1021 263h1v2h-1zM1022 265h1v2h-1zM1023 267h1v2h-1zM1024 269h1v2h-1zM1025 271h1v1h-1zM1026 272h1v2h-1zM1027 274h1v2h-1zM1028 276h1v2h-1zM1029 278h1v2h-1zM1030 280h1v1h-1zM1031 281h1v2h-1zM1032 283h1v2h-1zM1033 285h1v1h-1zM1034 286h1v2h-1zM1035 288h1v2h-1zM1036 290h1v2h-1zM1037 292h1v1h-1zM1038 293h1v2h-1zM1039 295h1v2h-1zM1040 297h1v1h-1zM1041 298h1v2h-1zM1042 300h1v1h-1zM1043 301h1v1h-1zM1044 302h1v2h-1zM1045 304h1v1h-1zM1046 305h1v1h-1zM1047 306h1v2h-1zM1048 308h1v1h-1zM1049 309h1v2h-1zM1050 311h1v1h-1zM1051 312h1v1h-1zM1052 313h1v2h-1zM1053 315h1v1h-1zM1054 316h1v2h-1zM1055 318h1v1h-1zM1056 319h1v2h-1zM1057 321h1v1h-1zM1058 322h1v2h-1zM1059 324h1v1h-1zM1060 325h1v2h-1zM1061 327h1v1h-1zM1062 328h1v2h-1zM1063 330h1v1h-1zM1064 331h1v1h-1zM1065 332h1v2h-1zM1066 334h1v1h-1zM1067 335h1v1h-1zM1068 336h1v1h-1zM1069 337h1v1h-1zM1070 338h1v2h-1zM1071 340h1v1h-1zM1072 341h1v1h-1zM1073 342h1v1h-1zM1074 343h1v1h-1zM1075 344h1v2h-1zM1076 346h1v1h-1zM1077 347h1v1h-1zM1078 348h1v1h-1zM1079 349h1v1h-1zM1080 350h1v1h-1zM1081 351h1v1h-1zM1082 352h1v1h-1zM1083 353h1v1h-1zM1084 354h1v1h-1zM1085 355h1v2h-1zM1086 357h1v1h-1zM1087 358h1v1h-1zM1088 359h1v1h-1zM1089 360h1v1h-1zM1090 361h1v1h-1zM1091 362h1v1h-1zM1092 363h1v1h-1zM1093 364h1v1h-1zM1094 365h1v1h-1zM1097 367h1v1h-1zM1098 368h1v1h-1zM1101 370h1v1h-1zM1102 371h1v1h-1zM1105 373h1v1h-1zM1106 374h1v1h-1zM1109 376h1v1h-1zM1110 377h1v1h-1zM1113 379h1v1h-1zM1114 380h1v1h-1zM1117 382h1v1h-1zM1118 383h1v1h-1zM1119 384h1v1h-1zM1122 386h1v1h-1zM1123 387h1v1h-1zM1126 389h1v1h-1zM1127 390h1v1h-1zM1130 392h1v1h-1zM1133 394h1v1h-1zM1134 395h1v1h-1zM1137 397h1v1h-1zM1138 398h1v1h-1zM1139 399h1v1h-1zM1140 400h1v1h-1zM1141 401h1v1h-1zM1142 402h1v1h-1zM1145 404h1v1h-1zM1146 405h1v1h-1zM1147 406h1v1h-1zM1148 407h1v1h-1zM1149 408h1v1h-1zM1178 408h1v1h-1zM1179 407h1v1h-1zM1180 406h1v1h-1zM1181 405h1v1h-1zM1184 403h1v1h-1zM1185 402h1v1h-1zM1186 401h1v1h-1zM1187 400h1v1h-1zM1188 399h1v1h-1zM1189 398h1v1h-1zM1192 396h1v1h-1zM1193 395h1v1h-1zM1194 394h1v1h-1zM1195 393h1v1h-1zM1198 391h1v1h-1zM1199 390h1v1h-1zM1291 391h1v1h-1zM1294 393h1v1h-1zM1295 394h1v1h-1zM1298 396h1v1h-1zM1299 397h1v1h-1zM1302 399h1v1h-1zM1303 400h1v1h-1zM1304 401h1v1h-1zM1305 402h1v1h-1zM1306 403h1v1h-1zM1307 404h1v1h-1zM1310 406h1v1h-1zM1311 407h1v1h-1zM1312 408h1v1h-1zM1313 409h1v1h-1zM1314 410h1v1h-1zM1317 412h1v1h-1zM1318 413h1v1h-1zM1321 415h1v1h-1zM1322 416h1v1h-1zM1325 418h1v1h-1zM1326 419h1v1h-1zM1329 421h1v1h-1zM1330 422h1v1h-1zM1343 429h1v1h-1zM1350 433h1v1h-1zM1357 437h1v1h-1zM1358 438h1v1h-1zM1361 440h1v1h-1zM1362 441h1v1h-1zM1365 443h1v1h-1zM1366 444h1v1h-1zM1369 446h1v1h-1zM1370 447h1v1h-1zM1371 448h1v1h-1zM1374 450h1v1h-1zM1375 451h1v1h-1zM1378 453h1v1h-1zM1379 454h1v1h-1zM1382 456h1v1h-1zM1383 457h1v1h-1z" fill="#2eaa62" shape-rendering="crispEdges"/>
<path d="M490 132h3v1h-3zM493 133h4v1h-4zM497 134h4v1h-4zM501 135h4v1h-4zM70 136h6v1h-6zM505 136h4v1h-4zM65 137h5v1h-5zM76 137h3v1h-3zM509 137h3v1h-3zM63 138h2v1h-2zM79 138h3v1h-3zM512 138h3v1h-3zM61 139h2v1h-2zM82 139h2v1h-2zM515 139h4v1h-4zM59 140h2v1h-2zM84 140h2v1h-2zM519 140h3v1h-3zM50 141h9v1h-9zM522 141h3v1h-3zM42 142h8v1h-8zM87 142h2v1h-2zM525 142h3v1h-3zM40 143h2v1h-2zM528 143h2v1h-2zM38 144h2v1h-2zM90 144h2v1h-2zM530 144h3v1h-3zM36 145h2v1h-2zM533 145h3v1h-3zM33 146h3v1h-3zM536 146h3v1h-3zM29 147h4v1h-4zM539 147h8v1h-8zM27 148h2v1h-2zM547 148h13v1h-13zM560 149h7v1h-7zM24 150h2v1h-2zM20 153h2v1h-2zM615 159h7v1h-7zM573 160h3v1h-3zM609 160h6v1h-6zM622 160h3v1h-3zM576 161h4v1h-4zM605 161h4v1h-4zM625 161h4v1h-4zM6 162h6v1h-6zM580 162h5v1h-5zM602 162h3v1h-3zM629 162h3v1h-3zM0 163h6v1h-6zM585 163h17v1h-17zM632 163h2v1h-2zM634 164h2v1h-2zM637 166h2v1h-2zM640 168h2v1h-2zM642 169h2v1h-2zM645 171h2v1h-2zM647 172h7v1h-7zM654 173h25v1h-25zM679 174h2v1h-2zM681 175h2v1h-2zM683 176h2v1h-2zM108 177h2v1h-2zM685 177h3v1h-3zM688 178h2v1h-2zM690 179h2v1h-2zM112 180h2v1h-2zM692 180h3v1h-3zM695 181h2v1h-2zM115 182h2v1h-2zM697 182h3v1h-3zM733 182h7v1h-7zM117 183h4v1h-4zM700 183h2v1h-2zM725 183h8v1h-8zM740 183h2v1h-2zM121 184h3v1h-3zM702 184h4v1h-4zM720 184h5v1h-5zM742 184h2v1h-2zM124 185h4v1h-4zM706 185h5v1h-5zM716 185h4v1h-4zM744 185h3v1h-3zM128 186h2v1h-2zM711 186h5v1h-5zM747 186h2v1h-2zM130 187h2v1h-2zM442 187h2v1h-2zM749 187h2v1h-2zM132 188h2v1h-2zM440 188h2v1h-2zM438 189h2v1h-2zM135 190h2v1h-2zM436 190h2v1h-2zM753 190h2v1h-2zM137 191h2v1h-2zM434 191h2v1h-2zM139 192h2v1h-2zM432 192h2v1h-2zM141 193h2v1h-2zM430 193h2v1h-2zM143 194h3v1h-3zM428 194h2v1h-2zM146 195h3v1h-3zM759 195h2v1h-2zM149 196h18v1h-18zM167 197h19v1h-19zM186 198h2v1h-2zM188 199h2v1h-2zM422 199h2v1h-2zM414 206h2v1h-2zM210 231h2v1h-2zM212 232h3v1h-3zM215 233h2v1h-2zM217 234h3v1h-3zM220 235h3v1h-3zM223 236h2v1h-2zM225 237h2v1h-2zM227 238h2v1h-2zM229 239h2v1h-2zM233 242h2v1h-2zM329 244h2v1h-2zM237 245h5v1h-5zM325 245h4v1h-4zM331 245h2v1h-2zM242 246h7v1h-7zM322 246h3v1h-3zM333 246h2v1h-2zM249 247h4v1h-4zM318 247h4v1h-4zM335 247h2v1h-2zM253 248h4v1h-4zM313 248h5v1h-5zM337 248h2v1h-2zM257 249h4v1h-4zM308 249h5v1h-5zM339 249h2v1h-2zM261 250h4v1h-4zM286 250h22v1h-22zM341 250h2v1h-2zM265 251h21v1h-21zM343 251h2v1h-2zM345 252h2v1h-2zM379 252h2v1h-2zM347 253h2v1h-2zM377 253h2v1h-2zM349 254h2v1h-2zM374 254h3v1h-3zM351 255h3v1h-3zM371 255h3v1h-3zM354 256h2v1h-2zM369 256h2v1h-2zM356 257h3v1h-3zM366 257h3v1h-3zM359 258h2v1h-2zM364 258h2v1h-2zM361 259h3v1h-3zM903 287h10v1h-10zM898 288h5v1h-5zM913 288h7v1h-7zM920 289h3v1h-3zM923 290h3v1h-3zM926 291h3v1h-3zM929 292h2v1h-2zM932 294h2v1h-2zM936 297h2v1h-2zM887 299h2v1h-2zM940 300h2v1h-2zM882 303h2v1h-2zM945 304h2v1h-2zM988 304h6v1h-6zM879 305h2v1h-2zM982 305h6v1h-6zM877 306h2v1h-2zM980 306h2v1h-2zM875 307h2v1h-2zM978 307h2v1h-2zM873 308h2v1h-2zM950 308h2v1h-2zM976 308h2v1h-2zM871 309h2v1h-2zM974 309h2v1h-2zM972 310h2v1h-2zM868 311h2v1h-2zM954 311h2v1h-2zM970 311h2v1h-2zM956 312h2v1h-2zM968 312h2v1h-2zM865 313h2v1h-2zM958 313h2v1h-2zM966 313h2v1h-2zM960 314h2v1h-2zM964 314h2v1h-2zM962 315h2v1h-2zM861 316h2v1h-2zM859 317h2v1h-2zM845 318h2v1h-2zM857 318h2v1h-2zM855 319h2v1h-2zM853 320h2v1h-2zM851 321h2v1h-2zM1236 416h22v1h-22zM1234 417h2v1h-2zM1258 417h3v1h-3zM1232 418h2v1h-2zM1230 419h2v1h-2zM1228 420h2v1h-2zM1273 430h2v1h-2zM1217 432h3v1h-3zM1215 433h2v1h-2zM1212 435h2v1h-2zM1279 435h2v1h-2zM1206 440h2v1h-2zM1172 496h6v1h-6zM1160 497h12v1h-12zM1154 498h6v1h-6zM1047 514h2v1h-2zM1051 517h2v1h-2zM1053 518h2v1h-2zM1055 519h2v1h-2zM1066 530h2v1h-2zM1068 531h2v1h-2zM1070 532h3v1h-3zM1073 533h3v1h-3zM1076 534h2v1h-2zM1078 535h3v1h-3zM1081 536h4v1h-4zM1409 536h9v1h-9zM1085 537h4v1h-4zM1406 537h3v1h-3zM1418 537h9v1h-9zM1089 538h4v1h-4zM1403 538h3v1h-3zM1093 539h2v1h-2zM1401 539h2v1h-2zM1095 540h2v1h-2zM1398 540h3v1h-3zM1097 541h2v1h-2zM1394 541h4v1h-4zM1099 542h3v1h-3zM1121 542h3v1h-3zM1389 542h5v1h-5zM1102 543h2v1h-2zM1115 543h6v1h-6zM1384 543h5v1h-5zM1104 544h2v1h-2zM1110 544h5v1h-5zM1379 544h5v1h-5zM1106 545h4v1h-4zM1373 545h6v1h-6zM1329 546h2v1h-2zM1367 546h6v1h-6zM1363 547h4v1h-4zM1332 548h2v1h-2zM1360 548h3v1h-3zM1357 549h3v1h-3zM1335 550h2v1h-2zM1346 550h11v1h-11zM1337 551h9v1h-9zM12 161h1v1h-1zM13 160h1v1h-1zM14 159h1v1h-1zM15 158h1v1h-1zM16 157h1v1h-1zM17 156h1v1h-1zM18 155h1v1h-1zM19 154h1v1h-1zM22 152h1v1h-1zM23 151h1v1h-1zM26 149h1v1h-1zM86 141h1v1h-1zM89 143h1v1h-1zM92 145h1v2h-1zM93 147h1v2h-1zM94 149h1v2h-1zM95 151h1v2h-1zM96 153h1v3h-1zM97 156h1v2h-1zM98 158h1v2h-1zM99 160h1v2h-1zM100 162h1v2h-1zM101 164h1v2h-1zM102 166h1v2h-1zM103 168h1v2h-1zM104 170h1v2h-1zM105 172h1v2h-1zM106 174h1v2h-1zM107 176h1v1h-1zM110 178h1v1h-1zM111 179h1v1h-1zM114 181h1v1h-1zM134 189h1v1h-1zM190 200h1v2h-1zM191 202h1v2h-1zM192 204h1v2h-1zM193 206h1v2h-1zM194 208h1v2h-1zM195 210h1v2h-1zM196 212h1v1h-1zM197 213h1v1h-1zM198 214h1v2h-1zM199 216h1v1h-1zM200 217h1v1h-1zM201 218h1v2h-1zM202 220h1v1h-1zM203 221h1v1h-1zM204 222h1v2h-1zM205 224h1v1h-1zM206 225h1v1h-1zM207 226h1v2h-1zM208 228h1v1h-1zM209 229h1v2h-1zM231 240h1v1h-1zM232 241h1v1h-1zM235 243h1v1h-1zM236 244h1v1h-1zM381 250h1v2h-1zM382 249h1v1h-1zM383 247h1v2h-1zM384 246h1v1h-1zM385 244h1v2h-1zM386 243h1v1h-1zM387 242h1v1h-1zM388 240h1v2h-1zM389 239h1v1h-1zM390 237h1v2h-1zM391 236h1v1h-1zM392 234h1v2h-1zM393 233h1v1h-1zM394 231h1v2h-1zM395 230h1v1h-1zM396 229h1v1h-1zM397 227h1v2h-1zM398 226h1v1h-1zM399 225h1v1h-1zM400 223h1v2h-1zM401 222h1v1h-1zM402 221h1v1h-1zM403 219h1v2h-1zM404 218h1v1h-1zM405 217h1v1h-1zM406 215h1v2h-1zM407 214h1v1h-1zM408 213h1v1h-1zM409 211h1v2h-1zM410 210h1v1h-1zM411 209h1v1h-1zM412 208h1v1h-1zM413 207h1v1h-1zM416 205h1v1h-1zM417 204h1v1h-1zM418 203h1v1h-1zM419 202h1v1h-1zM420 201h1v1h-1zM421 200h1v1h-1zM424 198h1v1h-1zM425 197h1v1h-1zM426 196h1v1h-1zM427 195h1v1h-1zM444 186h1v1h-1zM445 185h1v1h-1zM446 184h1v1h-1zM447 183h1v1h-1zM448 182h1v1h-1zM449 181h1v1h-1zM450 180h1v1h-1zM451 179h1v1h-1zM452 178h1v1h-1zM453 177h1v1h-1zM454 176h1v1h-1zM455 175h1v1h-1zM456 174h1v1h-1zM457 173h1v1h-1zM458 172h1v1h-1zM459 171h1v1h-1zM460 170h1v1h-1zM461 169h1v1h-1zM462 167h1v2h-1zM463 166h1v1h-1zM464 165h1v1h-1zM465 163h1v2h-1zM466 162h1v1h-1zM467 161h1v1h-1zM468 160h1v1h-1zM469 158h1v2h-1zM470 157h1v1h-1zM471 156h1v1h-1zM472 154h1v2h-1zM473 153h1v1h-1zM474 152h1v1h-1zM475 150h1v2h-1zM476 149h1v1h-1zM477 148h1v1h-1zM478 147h1v1h-1zM479 145h1v2h-1zM480 144h1v1h-1zM481 143h1v1h-1zM482 142h1v1h-1zM483 141h1v1h-1zM484 139h1v2h-1zM485 138h1v1h-1zM486 137h1v1h-1zM487 136h1v1h-1zM488 134h1v2h-1zM489 133h1v1h-1zM567 150h1v2h-1zM568 152h1v1h-1zM569 153h1v2h-1zM570 155h1v2h-1zM571 157h1v1h-1zM572 158h1v2h-1zM636 165h1v1h-1zM639 167h1v1h-1zM644 170h1v1h-1zM751 188h1v1h-1zM752 189h1v1h-1zM755 191h1v1h-1zM756 192h1v1h-1zM757 193h1v1h-1zM758 194h1v1h-1zM761 196h1v1h-1zM762 197h1v1h-1zM763 198h1v1h-1zM764 199h1v1h-1zM765 200h1v1h-1zM766 201h1v1h-1zM767 202h1v1h-1zM768 203h1v1h-1zM769 204h1v1h-1zM770 205h1v2h-1zM771 207h1v1h-1zM772 208h1v1h-1zM773 209h1v1h-1zM774 210h1v1h-1zM775 211h1v1h-1zM776 212h1v1h-1zM777 213h1v1h-1zM778 214h1v1h-1zM779 215h1v1h-1zM780 216h1v1h-1zM781 217h1v1h-1zM782 218h1v1h-1zM783 219h1v1h-1zM784 220h1v1h-1zM785 221h1v2h-1zM786 223h1v1h-1zM787 224h1v1h-1zM788 225h1v1h-1zM789 226h1v1h-1zM790 227h1v1h-1zM791 228h1v1h-1zM792 229h1v1h-1zM793 230h1v1h-1zM794 231h1v1h-1zM795 232h1v1h-1zM796 233h1v2h-1zM797 235h1v1h-1zM798 236h1v1h-1zM799 237h1v1h-1zM800 238h1v1h-1zM801 239h1v2h-1zM802 241h1v1h-1zM803 242h1v1h-1zM804 243h1v2h-1zM805 245h1v1h-1zM806 246h1v2h-1zM807 248h1v2h-1zM808 250h1v1h-1zM809 251h1v2h-1zM810 253h1v1h-1zM811 254h1v2h-1zM812 256h1v2h-1zM813 258h1v2h-1zM814 260h1v2h-1zM815 262h1v2h-1zM816 264h1v2h-1zM817 266h1v2h-1zM818 268h1v2h-1zM819 270h1v2h-1zM820 272h1v3h-1zM821 275h1v2h-1zM822 277h1v2h-1zM823 279h1v3h-1zM824 282h1v2h-1zM825 284h1v3h-1zM826 287h1v2h-1zM827 289h1v2h-1zM828 291h1v3h-1zM829 294h1v2h-1zM830 296h1v2h-1zM831 298h1v2h-1zM832 300h1v1h-1zM833 301h1v2h-1zM834 303h1v2h-1zM835 305h1v1h-1zM836 306h1v2h-1zM837 308h1v1h-1zM838 309h1v2h-1zM839 311h1v2h-1zM840 313h1v1h-1zM841 314h1v1h-1zM842 315h1v1h-1zM843 316h1v1h-1zM844 317h1v1h-1zM847 319h1v1h-1zM848 320h1v1h-1zM849 321h1v1h-1zM850 322h1v1h-1zM863 315h1v1h-1zM864 314h1v1h-1zM867 312h1v1h-1zM870 310h1v1h-1zM881 304h1v1h-1zM884 302h1v1h-1zM885 301h1v1h-1zM886 300h1v1h-1zM889 298h1v1h-1zM890 297h1v1h-1zM891 296h1v1h-1zM892 295h1v1h-1zM893 294h1v1h-1zM894 292h1v2h-1zM895 291h1v1h-1zM896 290h1v1h-1zM897 289h1v1h-1zM931 293h1v1h-1zM934 295h1v1h-1zM935 296h1v1h-1zM938 298h1v1h-1zM939 299h1v1h-1zM942 301h1v1h-1zM943 302h1v1h-1zM944 303h1v1h-1zM947 305h1v1h-1zM948 306h1v1h-1zM949 307h1v1h-1zM952 309h1v1h-1zM953 310h1v1h-1zM993 305h1v1h-1zM994 306h1v2h-1zM995 308h1v2h-1zM996 310h1v2h-1zM997 312h1v3h-1zM998 315h1v2h-1zM999 317h1v2h-1zM1000 319h1v4h-1zM1001 323h1v4h-1zM1002 327h1v4h-1zM1003 331h1v5h-1zM1004 336h1v4h-1zM1005 340h1v4h-1zM1006 344h1v4h-1zM1007 348h1v4h-1zM1008 352h1v4h-1zM1009 356h1v4h-1zM1010 360h1v4h-1zM1011 364h1v4h-1zM1012 368h1v4h-1zM1013 372h1v4h-1zM1014 376h1v4h-1zM1015 380h1v4h-1zM1016 384h1v4h-1zM1017 388h1v4h-1zM1018 392h1v4h-1zM1019 396h1v4h-1zM1020 400h1v4h-1zM1021 404h1v4h-1zM1022 408h1v4h-1zM1023 412h1v6h-1zM1024 418h1v6h-1zM1025 424h1v6h-1zM1026 430h1v7h-1zM1027 437h1v6h-1zM1028 443h1v6h-1zM1029 449h1v6h-1zM1030 455h1v6h-1zM1031 461h1v5h-1zM1032 466h1v5h-1zM1033 471h1v6h-1zM1034 477h1v4h-1zM1035 481h1v4h-1zM1036 485h1v4h-1zM1037 489h1v4h-1zM1038 493h1v4h-1zM1039 497h1v3h-1zM1040 500h1v2h-1zM1041 502h1v2h-1zM1042 504h1v3h-1zM1043 507h1v2h-1zM1044 509h1v2h-1zM1045 511h1v2h-1zM1046 513h1v1h-1zM1049 515h1v1h-1zM1050 516h1v1h-1zM1057 520h1v1h-1zM1058 521h1v1h-1zM1059 522h1v1h-1zM1060 523h1v1h-1zM1061 524h1v1h-1zM1062 525h1v2h-1zM1063 527h1v1h-1zM1064 528h1v1h-1zM1065 529h1v1h-1zM1124 541h1v1h-1zM1125 539h1v2h-1zM1126 538h1v1h-1zM1127 537h1v1h-1zM1128 536h1v1h-1zM1129 534h1v2h-1zM1130 533h1v1h-1zM1131 532h1v1h-1zM1132 531h1v1h-1zM1133 529h1v2h-1zM1134 528h1v1h-1zM1135 527h1v1h-1zM1136 526h1v1h-1zM1137 524h1v2h-1zM1138 523h1v1h-1zM1139 522h1v1h-1zM1140 520h1v2h-1zM1141 519h1v1h-1zM1142 518h1v1h-1zM1143 516h1v2h-1zM1144 514h1v2h-1zM1145 513h1v1h-1zM1146 511h1v2h-1zM1147 509h1v2h-1zM1148 508h1v1h-1zM1149 506h1v2h-1zM1150 504h1v2h-1zM1151 503h1v1h-1zM1152 501h1v2h-1zM1153 499h1v2h-1zM1178 494h1v2h-1zM1179 492h1v2h-1zM1180 491h1v1h-1zM1181 489h1v2h-1zM1182 487h1v2h-1zM1183 485h1v2h-1zM1184 482h1v3h-1zM1185 480h1v2h-1zM1186 477h1v3h-1zM1187 474h1v3h-1zM1188 472h1v2h-1zM1189 469h1v3h-1zM1190 466h1v3h-1zM1191 463h1v3h-1zM1192 459h1v4h-1zM1193 457h1v2h-1zM1194 455h1v2h-1zM1195 454h1v1h-1zM1196 453h1v1h-1zM1197 451h1v2h-1zM1198 450h1v1h-1zM1199 449h1v1h-1zM1200 447h1v2h-1zM1201 446h1v1h-1zM1202 445h1v1h-1zM1203 443h1v2h-1zM1204 442h1v1h-1zM1205 441h1v1h-1zM1208 439h1v1h-1zM1209 438h1v1h-1zM1210 437h1v1h-1zM1211 436h1v1h-1zM1214 434h1v1h-1zM1220 430h1v2h-1zM1221 429h1v1h-1zM1222 428h1v1h-1zM1223 426h1v2h-1zM1224 425h1v1h-1zM1225 424h1v1h-1zM1226 422h1v2h-1zM1227 421h1v1h-1zM1261 418h1v1h-1zM1262 419h1v1h-1zM1263 420h1v1h-1zM1264 421h1v1h-1zM1265 422h1v1h-1zM1266 423h1v1h-1zM1267 424h1v1h-1zM1268 425h1v1h-1zM1269 426h1v1h-1zM1270 427h1v1h-1zM1271 428h1v1h-1zM1272 429h1v1h-1zM1275 431h1v1h-1zM1276 432h1v1h-1zM1277 433h1v1h-1zM1278 434h1v1h-1zM1281 436h1v1h-1zM1282 437h1v1h-1zM1283 438h1v2h-1zM1284 440h1v2h-1zM1285 442h1v2h-1zM1286 444h1v2h-1zM1287 446h1v2h-1zM1288 448h1v2h-1zM1289 450h1v3h-1zM1290 453h1v3h-1zM1291 456h1v4h-1zM1292 460h1v3h-1zM1293 463h1v2h-1zM1294 465h1v2h-1zM1295 467h1v2h-1zM1296 469h1v2h-1zM1297 471h1v2h-1zM1298 473h1v2h-1zM1299 475h1v4h-1zM1300 479h1v3h-1zM1301 482h1v4h-1zM1302 486h1v3h-1zM1303 489h1v2h-1zM1304 491h1v3h-1zM1305 494h1v2h-1zM1306 496h1v3h-1zM1307 499h1v3h-1zM1308 502h1v2h-1zM1309 504h1v4h-1zM1310 508h1v6h-1zM1311 514h1v4h-1zM1312 518h1v2h-1zM1313 520h1v2h-1zM1314 522h1v2h-1zM1315 524h1v1h-1zM1316 525h1v2h-1zM1317 527h1v2h-1zM1318 529h1v2h-1zM1319 531h1v2h-1zM1320 533h1v1h-1zM1321 534h1v2h-1zM1322 536h1v1h-1zM1323 537h1v2h-1zM1324 539h1v1h-1zM1325 540h1v2h-1zM1326 542h1v1h-1zM1327 543h1v2h-1zM1328 545h1v1h-1zM1331 547h1v1h-1zM1334 549h1v1h-1z" fill="#2eaa62" shape-rendering="crispEdges"/>
<g shape-rendering="crispEdges">
<path d="M2.5 85V122M10.5 85V103M18.5 85V95M26.5 85V100M34.5 100V112M42.5 92V107M50.5 102V124M58.5 104V115M66.5 85V95M74.5 85V95M82.5 83V131M90.5 124V150M98.5 137V191M106.5 177V191M114.5 162V184M122.5 148V171M130.5 138V177M138.5 152V180M146.5 122V174M154.5 141V165M162.5 117V141M170.5 125V152M178.5 117V161M186.5 143V161M194.5 179V224M202.5 194V223M210.5 199V228M218.5 188V224M226.5 205V234M234.5 216V251M242.5 212V243M250.5 203V221M258.5 182V206M266.5 183V197M274.5 141V172M282.5 144V154M290.5 154V181M298.5 158V173M306.5 140V178M314.5 158V169M322.5 160V189M330.5 159V174M338.5 116V157M346.5 101V121M354.5 75V97M362.5 62V87M370.5 85V108M378.5 81V97M386.5 66V92M394.5 64V97M402.5 73V112M410.5 88V113M418.5 67V98M426.5 48V77M434.5 49V78M442.5 67V83M450.5 61V88M458.5 82V112M466.5 98V130M474.5 102V121M482.5 97V141M490.5 117V131M498.5 99V138M506.5 120V136M514.5 111V130M522.5 122V132M530.5 102V128M538.5 112V136M546.5 100V128M554.5 105V117M562.5 99V160M570.5 132V150M578.5 136V151M586.5 142V158M594.5 149V188M602.5 147V164M610.5 117V152M618.5 115V132M626.5 142V166M634.5 147V172M642.5 140V167M650.5 152V180M658.5 122V163M666.5 106V131M674.5 96V124M682.5 104V116M690.5 80V112M698.5 73V86M706.5 65V86M714.5 73V103M722.5 95V115M730.5 88V116M738.5 104V132M746.5 115V180M754.5 168V188M762.5 170V207M770.5 183V198M778.5 185V218M786.5 192V213M794.5 204V228M802.5 198V226M810.5 209V267M818.5 262V295M826.5 267V318M834.5 258V277M842.5 232V266M850.5 245V262M858.5 195V240M866.5 197V212M874.5 208V233M882.5 214V230M890.5 177V233M898.5 178V204M906.5 182V217M914.5 174V198M922.5 223V266M930.5 243V260M938.5 246V293M946.5 268V291M954.5 260V312M962.5 277V300M970.5 221V259M978.5 226V238M986.5 227V262M994.5 256V282M1002.5 313V359M1010.5 350V397M1018.5 372V438M1026.5 413V540M1034.5 459V527M1042.5 470V536M1050.5 392V435M1058.5 381V408M1066.5 399V446M1074.5 416V455M1082.5 382V444M1090.5 383V404M1098.5 390V440M1106.5 388V416M1114.5 346V416M1122.5 351V378M1130.5 357V387M1138.5 368V403M1146.5 383V419M1154.5 386V404M1162.5 358V428M1170.5 370V392M1178.5 365V406M1186.5 353V383M1194.5 331V377M1202.5 347V359M1210.5 343V364M1218.5 350V377M1226.5 361V396M1234.5 372V396M1242.5 368V405M1250.5 389V410M1258.5 387V418M1266.5 411V456M1274.5 417V446M1282.5 413V437M1290.5 431V482M1298.5 457V499M1306.5 476V562M1314.5 520V559M1322.5 467V509M1330.5 479V512M1338.5 452V480M1346.5 438V467M1354.5 414V458M1362.5 438V458M1370.5 442V484M1378.5 468V490M1386.5 455V493M1394.5 468V492M1402.5 466V505M1410.5 463V489M1418.5 467V514M1426.5 430V503" stroke="#000" stroke-width="1" fill="none"/>
<path d="M24 86h5v9h-5zM40 95h5v8h-5zM72 86h5v8h-5zM80 85h5v42h-5zM88 127h5v14h-5zM96 141h5v46h-5zM112 166h5v4h-5zM136 152h5v13h-5zM144 154h5v9h-5zM168 125h5v17h-5zM176 124h5v32h-5zM192 186h5v31h-5zM208 217h5v9h-5zM232 217h5v31h-5zM256 190h5v9h-5zM280 148h5v1h-5zM288 165h5v3h-5zM296 166h5v1h-5zM304 144h5v26h-5zM320 164h5v6h-5zM368 87h5v5h-5zM392 70h5v23h-5zM400 73h5v32h-5zM432 57h5v14h-5zM440 70h5v7h-5zM448 70h5v16h-5zM456 85h5v22h-5zM472 102h5v10h-5zM480 104h5v28h-5zM496 116h5v16h-5zM512 118h5v7h-5zM536 115h5v17h-5zM552 112h5v1h-5zM560 99h5v43h-5zM568 141h5v4h-5zM576 140h5v5h-5zM584 145h5v13h-5zM624 145h5v15h-5zM640 141h5v14h-5zM648 154h5v23h-5zM712 74h5v26h-5zM720 99h5v8h-5zM728 98h5v10h-5zM736 107h5v24h-5zM744 125h5v51h-5zM752 175h5v7h-5zM760 176h5v10h-5zM768 185h5v3h-5zM776 189h5v20h-5zM808 211h5v52h-5zM816 263h5v30h-5zM832 274h5v3h-5zM840 238h5v14h-5zM864 199h5v10h-5zM872 217h5v7h-5zM896 184h5v11h-5zM912 187h5v7h-5zM920 228h5v22h-5zM928 250h5v5h-5zM936 265h5v22h-5zM952 268h5v22h-5zM976 228h5v1h-5zM984 227h5v30h-5zM992 257h5v18h-5zM1000 313h5v37h-5zM1008 352h5v43h-5zM1016 397h5v15h-5zM1024 413h5v96h-5zM1032 482h5v34h-5zM1048 402h5v2h-5zM1064 421h5v20h-5zM1088 395h5v1h-5zM1096 393h5v24h-5zM1120 351h5v20h-5zM1128 372h5v5h-5zM1136 375h5v20h-5zM1144 387h5v8h-5zM1152 395h5v1h-5zM1168 370h5v16h-5zM1176 367h5v13h-5zM1200 351h5v1h-5zM1216 353h5v15h-5zM1240 370h5v22h-5zM1248 392h5v8h-5zM1256 398h5v15h-5zM1264 412h5v29h-5zM1280 423h5v11h-5zM1288 436h5v40h-5zM1296 476h5v16h-5zM1304 479h5v66h-5zM1328 481h5v24h-5zM1352 436h5v8h-5zM1368 453h5v28h-5zM1392 468h5v19h-5zM1400 477h5v1h-5zM1416 473h5v32h-5z" fill="#000"/>
<path d="M0.5 85.5h4v36h-4zM8.5 86.5h4v7h-4zM16.5 86.5h4v7h-4zM32.5 100.5h4v5h-4zM48.5 111.5h4v2h-4zM56.5 107.5h4v4h-4zM64.5 86.5h4v7h-4zM104.5 183.5h4v4h-4zM120.5 149.5h4v21h-4zM128.5 152.5h4v19h-4zM152.5 141.5h4v22h-4zM160.5 126.5h4v11h-4zM184.5 147.5h4v7h-4zM200.5 216.5h4v2h-4zM216.5 196.5h4v27h-4zM224.5 216.5h4v9h-4zM240.5 216.5h4v3h-4zM248.5 206.5h4v9h-4zM264.5 187.5h4v8h-4zM272.5 148.5h4v21h-4zM312.5 161.5h4v5h-4zM328.5 163.5h4v6h-4zM336.5 119.5h4v32h-4zM344.5 102.5h4v15h-4zM352.5 82.5h4v9h-4zM360.5 74.5h4v7h-4zM376.5 82.5h4v9h-4zM384.5 70.5h4v11h-4zM408.5 96.5h4v8h-4zM416.5 73.5h4v24h-4zM424.5 54.5h4v16h-4zM464.5 99.5h4v13h-4zM488.5 117.5h4v13h-4zM504.5 125.5h4v5h-4zM520.5 122.5h4v2h-4zM528.5 115.5h4v11h-4zM544.5 113.5h4v6h-4zM592.5 152.5h4v30h-4zM600.5 151.5h4v2h-4zM608.5 127.5h4v15h-4zM616.5 117.5h4v11h-4zM632.5 152.5h4v7h-4zM656.5 126.5h4v33h-4zM664.5 120.5h4v7h-4zM672.5 113.5h4v9h-4zM680.5 108.5h4v4h-4zM688.5 82.5h4v26h-4zM696.5 77.5h4v6h-4zM704.5 75.5h4v4h-4zM784.5 202.5h4v6h-4zM792.5 213.5h4v3h-4zM800.5 206.5h4v7h-4zM824.5 275.5h4v22h-4zM848.5 246.5h4v5h-4zM856.5 197.5h4v39h-4zM880.5 220.5h4v4h-4zM888.5 183.5h4v49h-4zM904.5 187.5h4v28h-4zM944.5 277.5h4v8h-4zM960.5 278.5h4v11h-4zM968.5 229.5h4v28h-4zM1040.5 481.5h4v35h-4zM1056.5 387.5h4v14h-4zM1072.5 420.5h4v25h-4zM1080.5 395.5h4v15h-4zM1104.5 403.5h4v12h-4zM1112.5 351.5h4v54h-4zM1160.5 370.5h4v47h-4zM1184.5 358.5h4v21h-4zM1192.5 349.5h4v18h-4zM1208.5 351.5h4v2h-4zM1224.5 385.5h4v2h-4zM1232.5 375.5h4v8h-4zM1272.5 422.5h4v19h-4zM1312.5 537.5h4v11h-4zM1320.5 482.5h4v26h-4zM1336.5 463.5h4v10h-4zM1344.5 446.5h4v17h-4zM1360.5 441.5h4v2h-4zM1376.5 469.5h4v11h-4zM1384.5 468.5h4v18h-4zM1408.5 470.5h4v7h-4zM1424.5 434.5h4v68h-4z" fill="#fff" stroke="#000" stroke-width="1"/>
</g>
<rect x="1300" y="443" width="168" height="7" fill="#00ff00" shape-rendering="crispEdges"/>
<polyline points="234.5,251.5 245,251.5" fill="none" stroke="#ff0000" stroke-width="1" shape-rendering="crispEdges"/>
<rect x="245.5" y="242.5" width="60" height="18" fill="#fff" stroke="#ff0000" stroke-width="1" shape-rendering="crispEdges"/>
<text x="275.5" y="258" font-size="17" fill="#ff0000" text-anchor="middle" textLength="57.8" lengthAdjust="spacingAndGlyphs">27479.4</text>
<polyline points="1184,331.5 1195,331.5" fill="none" stroke="#ff0000" stroke-width="1" shape-rendering="crispEdges"/>
<rect x="1123.5" y="322.5" width="61" height="18" fill="#fff" stroke="#ff0000" stroke-width="1" shape-rendering="crispEdges"/>
<text x="1154" y="338" font-size="17" fill="#ff0000" text-anchor="middle" textLength="58.8" lengthAdjust="spacingAndGlyphs">26718.2</text>
<polyline points="1016,540.5 1026.5,540.5" fill="none" stroke="#ff0000" stroke-width="1" shape-rendering="crispEdges"/>
<rect x="955.5" y="531.5" width="61" height="18" fill="#fff" stroke="#ff0000" stroke-width="1" shape-rendering="crispEdges"/>
<text x="986" y="547" font-size="17" fill="#ff0000" text-anchor="middle" textLength="58.8" lengthAdjust="spacingAndGlyphs">24743.2</text>
<polyline points="1296,561.5 1306,561.5" fill="none" stroke="#ff0000" stroke-width="1" shape-rendering="crispEdges"/>
<rect x="1235.5" y="552.5" width="61" height="18" fill="#fff" stroke="#ff0000" stroke-width="1" shape-rendering="crispEdges"/>
<text x="1266" y="568" font-size="17" fill="#ff0000" text-anchor="middle" textLength="58.8" lengthAdjust="spacingAndGlyphs">24551.7</text>
<polyline points="1344,413.5 1355,413.5" fill="none" stroke="#ff0000" stroke-width="1" shape-rendering="crispEdges"/>
<rect x="1283.5" y="404.5" width="61" height="18" fill="#fff" stroke="#ff0000" stroke-width="1" shape-rendering="crispEdges"/>
<text x="1314" y="420" font-size="17" fill="#ff0000" text-anchor="middle" textLength="58.8" lengthAdjust="spacingAndGlyphs">25948.0</text>
<polyline points="1131,445.5 1141,445.5" fill="none" stroke="#ff0000" stroke-width="1" shape-rendering="crispEdges"/>
<rect x="1138.5" y="443.5" width="3" height="4" fill="#fff" stroke="#ff0000" stroke-width="1" shape-rendering="crispEdges"/>
<rect x="1141.5" y="433.5" width="73" height="24" fill="#fff" stroke="#ff0000" stroke-width="1" shape-rendering="crispEdges"/>
<text x="1178" y="454" font-size="22" fill="#ff0000" text-anchor="middle" textLength="69.5" lengthAdjust="spacingAndGlyphs">25646.1</text>
<line x1="1193" y1="339" x2="1306.75" y2="551.91" stroke="#ff0000" stroke-width="3.5"/>
<polygon points="1310,558 1299.29,550.68 1305.66,549.89 1309.87,545.03" fill="#ff0000"/>
<line x1="1310" y1="558" x2="1353.4" y2="422.07" stroke="#ff0000" stroke-width="3.5"/>
<polygon points="1355.5,415.5 1357.72,428.28 1352.7,424.26 1346.29,424.63" fill="#ff0000"/>
<line x1="1355.5" y1="415.5" x2="1416" y2="500.38" stroke="#ff0000" stroke-width="3.5"/>
<polygon points="1420,506 1408.44,500.12 1414.66,498.51 1418.21,493.15" fill="#ff0000"/>
<line x1="1420" y1="506" x2="1444.24" y2="414.17" stroke="#ff0000" stroke-width="3.5"/>
<polygon points="1446,407.5 1448.87,420.15 1443.65,416.4 1437.26,417.09" fill="#ff0000"/>
<text x="1460.5" y="486.5" font-size="21.2" fill="#00ff00" font-weight="300" textLength="106" lengthAdjust="spacingAndGlyphs" font-family='"Liberation Serif", "Noto Serif CJK SC", serif'>多空转折点</text>
</g>
<path d="M0 26.5 L4 32 L0 32 Z" fill="#000"/>
<text x="9" y="32.6" font-size="10" fill="#000" textLength="188" lengthAdjust="spacingAndGlyphs">HK50-,H4&#160;&#160;25092.0 25786.0 25092.0 25748.0</text>
<g clip-path="url(#cMacd)">
<g shape-rendering="crispEdges">
<path d="M2.5 618V625M10.5 616V625M18.5 614V625M26.5 614V625M34.5 614V625M42.5 615V625M50.5 616V625M58.5 618V625M66.5 616V625M74.5 614V625M82.5 619V625M98.5 625V634M106.5 625V641M114.5 625V645M122.5 625V646M130.5 625V646M138.5 625V648M146.5 625V648M154.5 625V646M162.5 625V642M170.5 625V641M178.5 625V641M186.5 625V640M194.5 625V648M202.5 625V655M210.5 625V660M218.5 625V660M226.5 625V663M234.5 625V668M242.5 625V668M250.5 625V666M258.5 625V662M266.5 625V658M274.5 625V650M282.5 625V643M290.5 625V639M298.5 625V636M306.5 625V635M314.5 625V632M322.5 625V630M330.5 625V628M338.5 623V625M346.5 615V625M354.5 606V625M362.5 599V625M370.5 595V625M378.5 592V625M386.5 588V625M394.5 588V625M402.5 590V625M410.5 591V625M418.5 590V625M426.5 586V625M434.5 586V625M442.5 587V625M450.5 590V625M458.5 595V625M466.5 598V625M474.5 603V625M482.5 609V625M490.5 613V625M498.5 617V625M506.5 620V625M514.5 622V625M522.5 624V625M546.5 625V626M554.5 625V626M562.5 625V628M570.5 625V631M578.5 625V633M586.5 625V636M594.5 625V638M602.5 625V640M610.5 625V636M618.5 625V635M626.5 625V636M634.5 625V637M642.5 625V638M650.5 625V643M658.5 625V638M666.5 625V634M674.5 625V630M690.5 621V625M698.5 615V625M706.5 611V625M714.5 610V625M722.5 611V625M730.5 612V625M738.5 616V625M754.5 625V632M762.5 625V638M770.5 625V644M778.5 625V650M786.5 625V655M794.5 625V658M802.5 625V661M810.5 625V668M818.5 625V680M826.5 625V684M834.5 625V688M842.5 625V686M850.5 625V684M858.5 625V675M866.5 625V668M874.5 625V666M882.5 625V663M890.5 625V654M898.5 625V650M906.5 625V644M914.5 625V641M922.5 625V645M930.5 625V648M938.5 625V655M946.5 625V660M954.5 625V664M962.5 625V665M970.5 625V659M978.5 625V654M986.5 625V654M994.5 625V655M1002.5 625V666M1010.5 625V680M1018.5 625V692M1026.5 625V714M1034.5 625V730M1042.5 625V738M1050.5 625V732M1058.5 625V724M1066.5 625V724M1074.5 625V719M1082.5 625V713M1090.5 625V706M1098.5 625V703M1106.5 625V697M1114.5 625V685M1122.5 625V678M1130.5 625V672M1138.5 625V670M1146.5 625V666M1154.5 625V664M1162.5 625V658M1170.5 625V656M1178.5 625V653M1186.5 625V648M1194.5 625V642M1202.5 625V636M1210.5 625V634M1218.5 625V633M1226.5 625V634M1234.5 625V634M1242.5 625V636M1250.5 625V638M1258.5 625V642M1266.5 625V648M1274.5 625V649M1282.5 625V652M1290.5 625V660M1298.5 625V668M1306.5 625V680M1314.5 625V688M1322.5 625V686M1330.5 625V686M1338.5 625V679M1346.5 625V674M1354.5 625V669M1362.5 625V663M1370.5 625V663M1378.5 625V661M1386.5 625V659M1394.5 625V658M1402.5 625V658M1410.5 625V656M1418.5 625V655M1426.5 625V650" stroke="#c0c0c0" stroke-width="1" fill="none"/>
</g>
<path d="M439 588h2v1h-2zM444 588h3v1h-3zM450 588h3v1h-3zM456 588h3v1h-3zM433 589h2v1h-2zM462 589h3v1h-3zM426 591h2v1h-2zM469 591h2v1h-2zM420 592h3v1h-3zM475 592h2v1h-2zM480 592h2v1h-2zM415 593h2v1h-2zM486 594h2v1h-2zM408 596h2v1h-2zM493 597h2v1h-2zM498 600h2v1h-2zM396 603h2v1h-2zM504 603h2v1h-2zM391 606h2v1h-2zM510 606h2v1h-2zM517 609h2v1h-2zM384 610h2v1h-2zM522 611h2v1h-2zM379 613h2v1h-2zM0 614h3v1h-3zM6 614h3v1h-3zM12 614h3v1h-3zM18 614h3v1h-3zM24 614h3v1h-3zM72 614h3v1h-3zM78 614h2v1h-2zM529 614h2v1h-2zM30 615h3v1h-3zM36 615h3v1h-3zM42 615h3v1h-3zM48 615h3v1h-3zM54 615h3v1h-3zM60 615h3v1h-3zM66 615h3v1h-3zM84 616h3v1h-3zM534 616h3v1h-3zM738 616h3v1h-3zM744 616h3v1h-3zM750 616h3v1h-3zM90 617h3v1h-3zM733 617h2v1h-2zM756 617h3v1h-3zM97 618h2v1h-2zM540 618h2v1h-2zM727 619h2v1h-2zM763 619h2v1h-2zM546 620h3v1h-3zM103 621h2v1h-2zM366 621h2v1h-2zM552 621h3v1h-3zM769 621h2v1h-2zM558 622h2v1h-2zM720 622h2v1h-2zM109 624h2v1h-2zM361 624h2v1h-2zM564 624h3v1h-3zM715 624h2v1h-2zM570 625h3v1h-3zM115 626h2v1h-2zM576 626h3v1h-3zM355 627h2v1h-2zM582 627h3v1h-3zM709 627h2v1h-2zM121 628h2v1h-2zM781 628h2v1h-2zM588 629h3v1h-3zM348 630h2v1h-2zM702 630h2v1h-2zM127 631h2v1h-2zM595 631h2v1h-2zM600 632h3v1h-3zM696 632h3v1h-3zM787 632h2v1h-2zM132 633h2v1h-2zM606 633h3v1h-3zM612 634h3v1h-3zM618 634h3v1h-3zM690 634h3v1h-3zM624 635h3v1h-3zM684 635h3v1h-3zM139 636h2v1h-2zM337 636h2v1h-2zM630 636h3v1h-3zM678 636h3v1h-3zM793 636h2v1h-2zM636 637h3v1h-3zM672 637h3v1h-3zM144 638h3v1h-3zM642 638h3v1h-3zM648 638h3v1h-3zM654 638h3v1h-3zM660 638h3v1h-3zM666 638h3v1h-3zM1251 638h3v1h-3zM1257 638h3v1h-3zM1263 638h3v1h-3zM1269 638h3v1h-3zM331 639h2v1h-2zM1245 639h3v1h-3zM1275 639h2v1h-2zM150 640h2v1h-2zM1239 640h3v1h-3zM1233 641h3v1h-3zM1281 641h3v1h-3zM325 642h2v1h-2zM157 643h2v1h-2zM1287 643h2v1h-2zM186 644h3v1h-3zM192 644h3v1h-3zM198 644h2v1h-2zM804 644h2v1h-2zM1229 644h2v1h-2zM163 645h2v1h-2zM175 645h2v1h-2zM180 645h3v1h-3zM319 645h2v1h-2zM1223 645h3v1h-3zM168 646h3v1h-3zM204 646h3v1h-3zM1293 646h2v1h-2zM210 647h3v1h-3zM1217 647h2v1h-2zM216 648h2v1h-2zM313 648h2v1h-2zM1299 649h2v1h-2zM223 650h2v1h-2zM1211 650h2v1h-2zM307 651h2v1h-2zM229 652h2v1h-2zM942 652h3v1h-3zM948 652h3v1h-3zM954 652h3v1h-3zM936 653h3v1h-3zM960 653h3v1h-3zM1205 653h2v1h-2zM234 654h3v1h-3zM301 654h2v1h-2zM966 654h3v1h-3zM930 655h2v1h-2zM972 655h3v1h-3zM978 655h3v1h-3zM241 656h2v1h-2zM984 656h3v1h-3zM990 656h2v1h-2zM1199 656h2v1h-2zM294 657h3v1h-3zM924 657h3v1h-3zM996 658h3v1h-3zM247 659h2v1h-2zM288 659h2v1h-2zM823 659h2v1h-2zM1193 659h2v1h-2zM283 660h2v1h-2zM918 660h2v1h-2zM1002 660h3v1h-3zM252 661h3v1h-3zM1419 661h2v1h-2zM258 662h3v1h-3zM264 662h3v1h-3zM270 662h3v1h-3zM276 662h3v1h-3zM1009 662h2v1h-2zM1187 662h2v1h-2zM1317 662h2v1h-2zM912 663h2v1h-2zM1413 663h2v1h-2zM1014 664h3v1h-3zM1181 665h2v1h-2zM1407 665h2v1h-2zM906 666h2v1h-2zM1323 666h2v1h-2zM1402 666h2v1h-2zM835 667h2v1h-2zM901 669h2v1h-2zM1175 669h2v1h-2zM1329 669h2v1h-2zM1395 669h2v1h-2zM841 670h2v1h-2zM1390 671h2v1h-2zM1027 672h2v1h-2zM1335 672h2v1h-2zM847 673h2v1h-2zM894 673h2v1h-2zM1383 674h2v1h-2zM852 675h2v1h-2zM888 675h2v1h-2zM1341 675h3v1h-3zM883 676h2v1h-2zM1347 676h3v1h-3zM1377 676h3v1h-3zM858 677h3v1h-3zM1163 677h2v1h-2zM1353 677h3v1h-3zM1371 677h3v1h-3zM864 678h3v1h-3zM870 678h3v1h-3zM876 678h2v1h-2zM1359 678h3v1h-3zM1365 678h3v1h-3zM1158 680h2v1h-2zM1151 684h2v1h-2zM1145 688h2v1h-2zM1127 702h2v1h-2zM1122 706h2v1h-2zM1073 716h2v1h-2zM1109 716h2v1h-2zM1103 719h2v1h-2zM1080 720h2v1h-2zM1085 721h3v1h-3zM1097 721h3v1h-3zM1091 722h3v1h-3zM80 615h1v1h-1zM96 617h1v1h-1zM102 620h1v1h-1zM108 623h1v1h-1zM114 625h1v1h-1zM120 627h1v1h-1zM126 630h1v1h-1zM134 634h1v1h-1zM138 635h1v1h-1zM152 641h1v1h-1zM156 642h1v1h-1zM162 644h1v1h-1zM174 646h1v1h-1zM200 645h1v1h-1zM218 649h1v1h-1zM222 649h1v1h-1zM228 651h1v1h-1zM240 655h1v1h-1zM246 658h1v1h-1zM282 661h1v1h-1zM290 658h1v1h-1zM300 655h1v1h-1zM306 652h1v1h-1zM312 649h1v1h-1zM318 646h1v1h-1zM324 643h1v1h-1zM330 640h1v1h-1zM336 637h1v1h-1zM342 634h1v1h-1zM343 633h1v1h-1zM344 632h1v1h-1zM350 629h1v1h-1zM354 628h1v1h-1zM360 625h1v1h-1zM368 620h1v1h-1zM372 618h1v1h-1zM373 617h1v1h-1zM374 616h1v1h-1zM378 614h1v1h-1zM386 609h1v1h-1zM390 607h1v1h-1zM398 602h1v1h-1zM402 600h1v1h-1zM403 599h1v1h-1zM404 598h1v1h-1zM410 595h1v1h-1zM414 594h1v1h-1zM428 590h1v1h-1zM432 590h1v1h-1zM438 589h1v1h-1zM468 590h1v1h-1zM474 591h1v1h-1zM482 593h1v1h-1zM488 595h1v1h-1zM492 596h1v1h-1zM500 601h1v1h-1zM506 604h1v1h-1zM512 607h1v1h-1zM516 608h1v1h-1zM524 612h1v1h-1zM528 613h1v1h-1zM542 619h1v1h-1zM560 623h1v1h-1zM594 630h1v1h-1zM704 629h1v1h-1zM708 628h1v1h-1zM714 625h1v1h-1zM722 621h1v1h-1zM726 620h1v1h-1zM732 618h1v1h-1zM762 618h1v1h-1zM768 620h1v1h-1zM774 623h1v1h-1zM775 624h1v1h-1zM776 625h1v1h-1zM780 627h1v1h-1zM786 631h1v1h-1zM792 635h1v1h-1zM798 639h1v1h-1zM799 640h1v1h-1zM800 641h1v1h-1zM806 645h1v1h-1zM810 648h1v1h-1zM811 649h1v1h-1zM812 650h1v1h-1zM816 653h1v1h-1zM817 654h1v1h-1zM818 655h1v1h-1zM822 658h1v1h-1zM828 662h1v1h-1zM829 663h1v1h-1zM830 664h1v1h-1zM834 666h1v1h-1zM840 669h1v1h-1zM846 672h1v1h-1zM854 676h1v1h-1zM878 677h1v1h-1zM882 677h1v1h-1zM890 674h1v1h-1zM896 672h1v1h-1zM900 670h1v1h-1zM908 665h1v1h-1zM914 662h1v1h-1zM920 659h1v1h-1zM932 654h1v1h-1zM992 657h1v1h-1zM1008 661h1v1h-1zM1020 666h1v1h-1zM1021 667h1v1h-1zM1022 668h1v1h-1zM1026 671h1v1h-1zM1032 676h1v1h-1zM1033 677h1v1h-1zM1034 678h1v1h-1zM1038 682h1v1h-1zM1039 683h1v1h-1zM1040 684h1v1h-1zM1044 688h1v1h-1zM1045 689h1v2h-1zM1049 694h1v1h-1zM1050 695h1v1h-1zM1051 696h1v1h-1zM1055 700h1v1h-1zM1056 701h1v1h-1zM1057 702h1v1h-1zM1061 706h1v1h-1zM1062 707h1v1h-1zM1063 708h1v1h-1zM1067 711h1v1h-1zM1068 712h1v1h-1zM1069 713h1v1h-1zM1075 717h1v1h-1zM1079 719h1v1h-1zM1105 718h1v1h-1zM1111 715h1v1h-1zM1115 712h1v1h-1zM1116 711h1v1h-1zM1117 710h1v1h-1zM1121 707h1v1h-1zM1129 701h1v1h-1zM1133 698h1v1h-1zM1134 697h1v1h-1zM1135 696h1v1h-1zM1139 693h1v1h-1zM1140 692h1v1h-1zM1141 691h1v1h-1zM1147 687h1v1h-1zM1153 683h1v1h-1zM1157 681h1v1h-1zM1165 676h1v1h-1zM1169 674h1v1h-1zM1170 673h1v1h-1zM1171 672h1v1h-1zM1177 668h1v1h-1zM1183 664h1v1h-1zM1189 661h1v1h-1zM1195 658h1v1h-1zM1201 655h1v1h-1zM1207 652h1v1h-1zM1213 649h1v1h-1zM1219 646h1v1h-1zM1230 643h1v1h-1zM1277 640h1v1h-1zM1289 644h1v1h-1zM1295 647h1v1h-1zM1301 650h1v1h-1zM1305 652h1v1h-1zM1306 653h1v1h-1zM1307 654h1v1h-1zM1311 657h1v1h-1zM1312 658h1v1h-1zM1313 659h1v1h-1zM1319 663h1v1h-1zM1325 667h1v1h-1zM1331 670h1v1h-1zM1337 673h1v1h-1zM1385 673h1v1h-1zM1389 672h1v1h-1zM1397 668h1v1h-1zM1401 667h1v1h-1zM1409 664h1v1h-1zM1415 662h1v1h-1zM1421 660h1v1h-1z" fill="#ff0000" shape-rendering="crispEdges"/>
<line x1="1338" y1="679.5" x2="1442.65" y2="649.8" stroke="#ff0000" stroke-width="3.2"/>
<polygon points="1449,648 1439.78,655.81 1440.53,650.4 1437.05,646.19" fill="#ff0000"/>
</g>
<text x="-1" y="589.2" font-size="10" fill="#000" textLength="133" lengthAdjust="spacingAndGlyphs">MACD(12,26,9) -148.56 -196.62</text>
<g clip-path="url(#cRsi)">
<line x1="0" y1="784.5" x2="1652" y2="784.5" stroke="#c0c0c0" stroke-width="1" stroke-dasharray="3 3" shape-rendering="crispEdges"/>
<line x1="0" y1="835.5" x2="1652" y2="835.5" stroke="#c0c0c0" stroke-width="1" stroke-dasharray="3 3" shape-rendering="crispEdges"/>
<line x1="0" y1="896.5" x2="1652" y2="896.5" stroke="#c0c0c0" stroke-width="1" stroke-dasharray="3 3" shape-rendering="crispEdges"/>
<path d="M360 804h3v1h-3zM356 805h4v1h-4zM354 806h2v1h-2zM352 807h2v1h-2zM385 807h2v1h-2zM383 808h2v1h-2zM381 809h2v1h-2zM348 810h2v1h-2zM379 810h2v1h-2zM376 811h3v1h-3zM422 811h2v1h-2zM345 812h2v1h-2zM372 812h4v1h-4zM343 813h2v1h-2zM370 813h2v1h-2zM341 814h2v1h-2zM696 814h11v1h-11zM339 815h2v1h-2zM692 815h4v1h-4zM416 816h2v1h-2zM690 816h2v1h-2zM434 817h2v1h-2zM436 818h2v1h-2zM412 819h2v1h-2zM438 819h3v1h-3zM441 820h2v1h-2zM398 821h2v1h-2zM409 821h2v1h-2zM443 821h2v1h-2zM406 822h3v1h-3zM445 822h2v1h-2zM404 823h2v1h-2zM447 823h2v1h-2zM16 824h3v1h-3zM66 824h9v1h-9zM402 824h2v1h-2zM449 824h2v1h-2zM12 825h4v1h-4zM678 825h5v1h-5zM6 826h6v1h-6zM20 826h2v1h-2zM673 826h5v1h-5zM0 827h6v1h-6zM274 827h9v1h-9zM671 827h2v1h-2zM715 827h2v1h-2zM-4 828h4v1h-4zM669 828h2v1h-2zM717 828h2v1h-2zM-6 829h2v1h-2zM24 829h2v1h-2zM667 829h2v1h-2zM719 829h2v1h-2zM26 830h2v1h-2zM665 830h2v1h-2zM721 830h10v1h-10zM28 831h4v1h-4zM286 831h2v1h-2zM662 831h3v1h-3zM891 831h2v1h-2zM32 832h4v1h-4zM313 832h2v1h-2zM329 832h2v1h-2zM462 832h5v1h-5zM616 832h3v1h-3zM660 832h2v1h-2zM905 832h3v1h-3zM1192 832h19v1h-19zM36 833h4v1h-4zM311 833h2v1h-2zM315 833h2v1h-2zM327 833h2v1h-2zM458 833h4v1h-4zM467 833h2v1h-2zM614 833h2v1h-2zM658 833h2v1h-2zM894 833h2v1h-2zM902 833h3v1h-3zM908 833h2v1h-2zM1188 833h4v1h-4zM1211 833h2v1h-2zM40 834h4v1h-4zM290 834h10v1h-10zM309 834h2v1h-2zM317 834h2v1h-2zM325 834h2v1h-2zM469 834h2v1h-2zM546 834h9v1h-9zM896 834h2v1h-2zM900 834h2v1h-2zM910 834h3v1h-3zM1186 834h2v1h-2zM44 835h2v1h-2zM160 835h2v1h-2zM300 835h4v1h-4zM307 835h2v1h-2zM319 835h2v1h-2zM323 835h2v1h-2zM471 835h2v1h-2zM611 835h2v1h-2zM898 835h2v1h-2zM913 835h2v1h-2zM1184 835h2v1h-2zM1214 835h2v1h-2zM46 836h3v1h-3zM54 836h5v1h-5zM164 836h2v1h-2zM304 836h3v1h-3zM321 836h2v1h-2zM473 836h2v1h-2zM529 836h2v1h-2zM1115 836h2v1h-2zM1216 836h2v1h-2zM49 837h5v1h-5zM526 837h3v1h-3zM1117 837h2v1h-2zM156 838h2v1h-2zM524 838h2v1h-2zM858 838h3v1h-3zM970 838h9v1h-9zM1119 838h2v1h-2zM1180 838h2v1h-2zM1360 838h3v1h-3zM168 839h2v1h-2zM488 839h2v1h-2zM518 839h6v1h-6zM861 839h2v1h-2zM1121 839h3v1h-3zM1163 839h2v1h-2zM1356 839h4v1h-4zM265 840h2v1h-2zM492 840h2v1h-2zM505 840h13v1h-13zM863 840h2v1h-2zM1124 840h2v1h-2zM1165 840h2v1h-2zM1176 840h3v1h-3zM1232 840h2v1h-2zM1345 840h11v1h-11zM263 841h2v1h-2zM503 841h2v1h-2zM865 841h2v1h-2zM1126 841h3v1h-3zM1158 841h2v1h-2zM1167 841h2v1h-2zM1172 841h4v1h-4zM1222 841h2v1h-2zM1230 841h2v1h-2zM1236 841h2v1h-2zM1343 841h2v1h-2zM172 842h2v1h-2zM184 842h3v1h-3zM261 842h2v1h-2zM484 842h2v1h-2zM501 842h2v1h-2zM867 842h2v1h-2zM1129 842h3v1h-3zM1169 842h3v1h-3zM1341 842h2v1h-2zM182 843h2v1h-2zM259 843h2v1h-2zM496 843h2v1h-2zM499 843h2v1h-2zM1132 843h2v1h-2zM1227 843h2v1h-2zM1339 843h2v1h-2zM257 844h2v1h-2zM870 844h2v1h-2zM880 844h3v1h-3zM1134 844h3v1h-3zM1142 844h8v1h-8zM1240 844h2v1h-2zM1408 844h3v1h-3zM176 845h2v1h-2zM179 845h2v1h-2zM255 845h2v1h-2zM872 845h2v1h-2zM876 845h4v1h-4zM1137 845h5v1h-5zM1150 845h5v1h-5zM1242 845h2v1h-2zM1376 845h11v1h-11zM1404 845h4v1h-4zM83 846h2v1h-2zM122 846h9v1h-9zM253 846h2v1h-2zM633 846h3v1h-3zM874 846h2v1h-2zM1244 846h2v1h-2zM1372 846h4v1h-4zM1387 846h2v1h-2zM1401 846h3v1h-3zM85 847h2v1h-2zM131 847h2v1h-2zM251 847h2v1h-2zM562 847h2v1h-2zM631 847h2v1h-2zM636 847h4v1h-4zM987 847h2v1h-2zM1246 847h3v1h-3zM1370 847h2v1h-2zM1399 847h2v1h-2zM87 848h2v1h-2zM133 848h2v1h-2zM249 848h2v1h-2zM564 848h4v1h-4zM629 848h2v1h-2zM640 848h3v1h-3zM1082 848h9v1h-9zM1104 848h2v1h-2zM1249 848h2v1h-2zM1390 848h2v1h-2zM1397 848h2v1h-2zM89 849h2v1h-2zM135 849h2v1h-2zM142 849h5v1h-5zM247 849h2v1h-2zM568 849h11v1h-11zM626 849h3v1h-3zM990 849h2v1h-2zM1080 849h2v1h-2zM1091 849h2v1h-2zM1102 849h2v1h-2zM1251 849h2v1h-2zM1392 849h2v1h-2zM1395 849h2v1h-2zM137 850h5v1h-5zM245 850h2v1h-2zM600 850h3v1h-3zM992 850h2v1h-2zM1057 850h2v1h-2zM1093 850h2v1h-2zM1253 850h2v1h-2zM243 851h2v1h-2zM580 851h2v1h-2zM596 851h4v1h-4zM1055 851h2v1h-2zM1095 851h2v1h-2zM1099 851h2v1h-2zM1255 851h2v1h-2zM593 852h3v1h-3zM1053 852h2v1h-2zM1076 852h2v1h-2zM1097 852h2v1h-2zM1257 852h2v1h-2zM1274 852h2v1h-2zM590 853h3v1h-3zM922 853h4v1h-4zM1051 853h2v1h-2zM1276 853h2v1h-2zM1417 853h2v1h-2zM220 854h2v1h-2zM584 854h2v1h-2zM588 854h2v1h-2zM926 854h5v1h-5zM1073 854h2v1h-2zM1278 854h3v1h-3zM586 855h2v1h-2zM649 855h2v1h-2zM1071 855h2v1h-2zM1281 855h2v1h-2zM1322 855h3v1h-3zM1069 856h2v1h-2zM1325 856h2v1h-2zM224 857h2v1h-2zM960 857h2v1h-2zM1067 857h2v1h-2zM1327 857h2v1h-2zM110 858h2v1h-2zM746 858h2v1h-2zM849 858h2v1h-2zM1329 858h2v1h-2zM748 859h4v1h-4zM847 859h2v1h-2zM945 859h3v1h-3zM228 860h2v1h-2zM752 860h4v1h-4zM845 860h2v1h-2zM942 860h3v1h-3zM948 860h2v1h-2zM956 860h2v1h-2zM756 861h4v1h-4zM843 861h2v1h-2zM940 861h2v1h-2zM950 861h3v1h-3zM98 862h9v1h-9zM760 862h11v1h-11zM938 862h2v1h-2zM953 862h2v1h-2zM194 863h10v1h-10zM232 863h2v1h-2zM204 864h2v1h-2zM801 864h2v1h-2zM206 865h3v1h-3zM799 865h2v1h-2zM209 866h2v1h-2zM774 866h2v1h-2zM785 866h3v1h-3zM797 866h2v1h-2zM1290 866h2v1h-2zM782 867h3v1h-3zM788 867h4v1h-4zM795 867h2v1h-2zM1292 867h2v1h-2zM780 868h2v1h-2zM792 868h3v1h-3zM1294 868h3v1h-3zM778 869h2v1h-2zM1297 869h2v1h-2zM1006 872h2v1h-2zM826 874h9v1h-9zM1010 875h2v1h-2zM1313 875h2v1h-2zM1012 876h4v1h-4zM1311 876h2v1h-2zM1016 877h3v1h-3zM1309 877h2v1h-2zM1307 878h2v1h-2zM811 881h2v1h-2zM813 882h2v1h-2zM815 883h2v1h-2zM817 884h2v1h-2zM1026 888h9v1h-9zM19 825h1v1h-1zM22 827h1v1h-1zM23 828h1v1h-1zM59 834h1v2h-1zM60 833h1v1h-1zM61 831h1v2h-1zM62 830h1v1h-1zM63 828h1v2h-1zM64 827h1v1h-1zM65 825h1v2h-1zM74 825h1v1h-1zM75 826h1v2h-1zM76 828h1v3h-1zM77 831h1v3h-1zM78 834h1v2h-1zM79 836h1v3h-1zM80 839h1v3h-1zM81 842h1v2h-1zM82 844h1v2h-1zM91 850h1v2h-1zM92 852h1v2h-1zM93 854h1v1h-1zM94 855h1v2h-1zM95 857h1v1h-1zM96 858h1v2h-1zM97 860h1v2h-1zM107 861h1v1h-1zM108 860h1v1h-1zM109 859h1v1h-1zM112 857h1v1h-1zM113 856h1v1h-1zM114 855h1v1h-1zM115 854h1v1h-1zM116 853h1v1h-1zM117 852h1v1h-1zM118 850h1v2h-1zM119 849h1v1h-1zM120 848h1v1h-1zM121 847h1v1h-1zM147 848h1v1h-1zM148 847h1v1h-1zM149 846h1v1h-1zM150 844h1v2h-1zM151 843h1v1h-1zM152 842h1v1h-1zM153 841h1v1h-1zM154 840h1v1h-1zM155 839h1v1h-1zM158 837h1v1h-1zM159 836h1v1h-1zM162 834h1v1h-1zM163 835h1v1h-1zM166 837h1v1h-1zM167 838h1v1h-1zM170 840h1v1h-1zM171 841h1v1h-1zM174 843h1v1h-1zM175 844h1v1h-1zM178 846h1v1h-1zM181 844h1v1h-1zM186 841h1v1h-1zM187 843h1v3h-1zM188 846h1v2h-1zM189 848h1v3h-1zM190 851h1v3h-1zM191 854h1v3h-1zM192 857h1v2h-1zM193 859h1v3h-1zM194 862h1v1h-1zM211 864h1v2h-1zM212 862h1v2h-1zM213 860h1v2h-1zM214 859h1v1h-1zM215 857h1v2h-1zM216 855h1v2h-1zM217 853h1v2h-1zM218 852h1v1h-1zM219 853h1v1h-1zM222 855h1v1h-1zM223 856h1v1h-1zM226 858h1v1h-1zM227 859h1v1h-1zM230 861h1v1h-1zM231 862h1v1h-1zM234 864h1v1h-1zM235 862h1v2h-1zM236 861h1v1h-1zM237 859h1v2h-1zM238 858h1v1h-1zM239 856h1v2h-1zM240 855h1v1h-1zM241 853h1v2h-1zM242 852h1v1h-1zM267 838h1v2h-1zM268 836h1v2h-1zM269 835h1v1h-1zM270 833h1v2h-1zM271 832h1v1h-1zM272 830h1v2h-1zM273 828h1v2h-1zM283 828h1v1h-1zM284 829h1v1h-1zM285 830h1v1h-1zM288 832h1v1h-1zM289 833h1v1h-1zM331 830h1v2h-1zM332 828h1v2h-1zM333 826h1v2h-1zM334 824h1v2h-1zM335 822h1v2h-1zM336 820h1v2h-1zM337 818h1v2h-1zM338 816h1v2h-1zM347 811h1v1h-1zM350 809h1v1h-1zM351 808h1v1h-1zM363 805h1v1h-1zM364 806h1v1h-1zM365 807h1v1h-1zM366 808h1v2h-1zM367 810h1v1h-1zM368 811h1v1h-1zM369 812h1v1h-1zM387 808h1v1h-1zM388 809h1v2h-1zM389 811h1v1h-1zM390 812h1v1h-1zM391 813h1v1h-1zM392 814h1v2h-1zM393 816h1v1h-1zM394 817h1v1h-1zM395 818h1v1h-1zM396 819h1v1h-1zM397 820h1v1h-1zM400 822h1v1h-1zM401 823h1v1h-1zM411 820h1v1h-1zM414 818h1v1h-1zM415 817h1v1h-1zM418 815h1v1h-1zM419 814h1v1h-1zM420 813h1v1h-1zM421 812h1v1h-1zM424 810h1v1h-1zM425 809h1v1h-1zM426 808h1v1h-1zM427 809h1v1h-1zM428 810h1v1h-1zM429 811h1v1h-1zM430 812h1v2h-1zM431 814h1v1h-1zM432 815h1v1h-1zM433 816h1v1h-1zM451 825h1v1h-1zM452 826h1v1h-1zM453 827h1v1h-1zM454 828h1v2h-1zM455 830h1v1h-1zM456 831h1v1h-1zM457 832h1v1h-1zM475 837h1v1h-1zM476 838h1v1h-1zM477 839h1v1h-1zM478 840h1v1h-1zM479 841h1v1h-1zM480 842h1v1h-1zM481 843h1v1h-1zM482 844h1v1h-1zM483 843h1v1h-1zM486 841h1v1h-1zM487 840h1v1h-1zM490 838h1v1h-1zM491 839h1v1h-1zM494 841h1v1h-1zM495 842h1v1h-1zM498 844h1v1h-1zM531 837h1v1h-1zM532 838h1v1h-1zM533 839h1v1h-1zM534 840h1v1h-1zM535 841h1v1h-1zM536 842h1v1h-1zM537 843h1v1h-1zM538 844h1v1h-1zM539 843h1v1h-1zM540 841h1v2h-1zM541 840h1v1h-1zM542 839h1v1h-1zM543 838h1v1h-1zM544 836h1v2h-1zM545 835h1v1h-1zM555 835h1v2h-1zM556 837h1v2h-1zM557 839h1v1h-1zM558 840h1v2h-1zM559 842h1v1h-1zM560 843h1v2h-1zM561 845h1v2h-1zM579 850h1v1h-1zM582 852h1v1h-1zM583 853h1v1h-1zM603 848h1v2h-1zM604 846h1v2h-1zM605 844h1v2h-1zM606 843h1v1h-1zM607 841h1v2h-1zM608 839h1v2h-1zM609 837h1v2h-1zM610 836h1v1h-1zM613 834h1v1h-1zM618 831h1v1h-1zM619 833h1v2h-1zM620 835h1v2h-1zM621 837h1v3h-1zM622 840h1v2h-1zM623 842h1v3h-1zM624 845h1v2h-1zM625 847h1v2h-1zM626 850h1v1h-1zM643 849h1v1h-1zM644 850h1v1h-1zM645 851h1v1h-1zM646 852h1v1h-1zM647 853h1v1h-1zM648 854h1v1h-1zM650 856h1v1h-1zM651 852h1v3h-1zM652 849h1v3h-1zM653 846h1v3h-1zM654 844h1v2h-1zM655 841h1v3h-1zM656 838h1v3h-1zM657 835h1v3h-1zM658 834h1v1h-1zM683 824h1v1h-1zM684 823h1v1h-1zM685 822h1v1h-1zM686 820h1v2h-1zM687 819h1v1h-1zM688 818h1v1h-1zM689 817h1v1h-1zM707 815h1v2h-1zM708 817h1v1h-1zM709 818h1v2h-1zM710 820h1v1h-1zM711 821h1v2h-1zM712 823h1v1h-1zM713 824h1v2h-1zM714 826h1v1h-1zM731 831h1v1h-1zM732 832h1v2h-1zM733 834h1v1h-1zM734 835h1v1h-1zM735 836h1v1h-1zM736 837h1v2h-1zM737 839h1v1h-1zM738 840h1v2h-1zM739 842h1v2h-1zM740 844h1v2h-1zM741 846h1v2h-1zM742 848h1v3h-1zM743 851h1v2h-1zM744 853h1v2h-1zM745 855h1v2h-1zM746 857h1v1h-1zM771 863h1v1h-1zM772 864h1v1h-1zM773 865h1v1h-1zM776 867h1v1h-1zM777 868h1v1h-1zM803 865h1v2h-1zM804 867h1v2h-1zM805 869h1v2h-1zM806 871h1v2h-1zM807 873h1v2h-1zM808 875h1v2h-1zM809 877h1v2h-1zM810 879h1v2h-1zM819 883h1v1h-1zM820 881h1v2h-1zM821 880h1v1h-1zM822 879h1v1h-1zM823 878h1v1h-1zM824 876h1v2h-1zM825 875h1v1h-1zM835 872h1v2h-1zM836 871h1v1h-1zM837 869h1v2h-1zM838 868h1v1h-1zM839 866h1v2h-1zM840 865h1v1h-1zM841 863h1v2h-1zM842 862h1v1h-1zM850 857h1v1h-1zM851 855h1v2h-1zM852 852h1v3h-1zM853 849h1v3h-1zM854 847h1v2h-1zM855 844h1v3h-1zM856 841h1v3h-1zM857 839h1v2h-1zM858 837h1v1h-1zM869 843h1v1h-1zM883 842h1v2h-1zM884 840h1v2h-1zM885 838h1v2h-1zM886 837h1v1h-1zM887 835h1v2h-1zM888 833h1v2h-1zM889 831h1v2h-1zM890 830h1v1h-1zM893 832h1v1h-1zM914 836h1v1h-1zM915 837h1v2h-1zM916 839h1v2h-1zM917 841h1v2h-1zM918 843h1v3h-1zM919 846h1v2h-1zM920 848h1v2h-1zM921 850h1v2h-1zM922 852h1v1h-1zM931 855h1v1h-1zM932 856h1v1h-1zM933 857h1v1h-1zM934 858h1v1h-1zM935 859h1v1h-1zM936 860h1v1h-1zM937 861h1v1h-1zM955 861h1v1h-1zM958 859h1v1h-1zM959 858h1v1h-1zM962 855h1v2h-1zM963 853h1v2h-1zM964 851h1v2h-1zM965 849h1v2h-1zM966 846h1v3h-1zM967 844h1v2h-1zM968 842h1v2h-1zM969 840h1v2h-1zM970 839h1v1h-1zM979 839h1v1h-1zM980 840h1v1h-1zM981 841h1v1h-1zM982 842h1v1h-1zM983 843h1v1h-1zM984 844h1v1h-1zM985 845h1v1h-1zM986 846h1v1h-1zM989 848h1v1h-1zM994 851h1v2h-1zM995 853h1v2h-1zM996 855h1v2h-1zM997 857h1v2h-1zM998 859h1v2h-1zM999 861h1v2h-1zM1000 863h1v2h-1zM1001 865h1v2h-1zM1002 867h1v2h-1zM1003 869h1v1h-1zM1004 870h1v1h-1zM1005 871h1v1h-1zM1008 873h1v1h-1zM1009 874h1v1h-1zM1019 878h1v2h-1zM1020 880h1v1h-1zM1021 881h1v1h-1zM1022 882h1v2h-1zM1023 884h1v1h-1zM1024 885h1v1h-1zM1025 886h1v2h-1zM1035 886h1v2h-1zM1036 885h1v1h-1zM1037 883h1v2h-1zM1038 882h1v1h-1zM1039 880h1v2h-1zM1040 879h1v1h-1zM1041 877h1v2h-1zM1042 875h1v2h-1zM1043 872h1v3h-1zM1044 870h1v2h-1zM1045 867h1v3h-1zM1046 864h1v3h-1zM1047 861h1v3h-1zM1048 859h1v2h-1zM1049 856h1v3h-1zM1050 854h1v2h-1zM1059 851h1v1h-1zM1060 852h1v1h-1zM1061 853h1v1h-1zM1062 854h1v1h-1zM1063 855h1v1h-1zM1064 856h1v1h-1zM1065 857h1v1h-1zM1066 858h1v1h-1zM1075 853h1v1h-1zM1078 851h1v1h-1zM1079 850h1v1h-1zM1101 850h1v1h-1zM1106 847h1v1h-1zM1107 845h1v2h-1zM1108 844h1v1h-1zM1109 842h1v2h-1zM1110 841h1v1h-1zM1111 839h1v2h-1zM1112 838h1v1h-1zM1113 836h1v2h-1zM1114 835h1v1h-1zM1155 844h1v1h-1zM1156 843h1v1h-1zM1157 842h1v1h-1zM1160 840h1v1h-1zM1161 839h1v1h-1zM1162 838h1v1h-1zM1179 839h1v1h-1zM1182 837h1v1h-1zM1183 836h1v1h-1zM1213 834h1v1h-1zM1218 837h1v1h-1zM1219 838h1v1h-1zM1220 839h1v1h-1zM1221 840h1v1h-1zM1224 842h1v1h-1zM1225 843h1v1h-1zM1226 844h1v1h-1zM1229 842h1v1h-1zM1234 839h1v1h-1zM1235 840h1v1h-1zM1238 842h1v1h-1zM1239 843h1v1h-1zM1259 853h1v1h-1zM1260 854h1v2h-1zM1261 856h1v1h-1zM1262 857h1v1h-1zM1263 858h1v1h-1zM1264 859h1v2h-1zM1265 861h1v1h-1zM1266 862h1v1h-1zM1267 861h1v1h-1zM1268 859h1v2h-1zM1269 858h1v1h-1zM1270 857h1v1h-1zM1271 856h1v1h-1zM1272 854h1v2h-1zM1273 853h1v1h-1zM1283 856h1v2h-1zM1284 858h1v1h-1zM1285 859h1v1h-1zM1286 860h1v2h-1zM1287 862h1v1h-1zM1288 863h1v1h-1zM1289 864h1v2h-1zM1299 870h1v1h-1zM1300 871h1v2h-1zM1301 873h1v1h-1zM1302 874h1v1h-1zM1303 875h1v1h-1zM1304 876h1v2h-1zM1305 878h1v1h-1zM1306 879h1v1h-1zM1314 874h1v1h-1zM1315 872h1v2h-1zM1316 869h1v3h-1zM1317 866h1v3h-1zM1318 864h1v2h-1zM1319 861h1v3h-1zM1320 858h1v3h-1zM1321 856h1v2h-1zM1322 854h1v1h-1zM1331 856h1v2h-1zM1332 854h1v2h-1zM1333 852h1v2h-1zM1334 851h1v1h-1zM1335 849h1v2h-1zM1336 847h1v2h-1zM1337 845h1v2h-1zM1338 844h1v1h-1zM1363 839h1v1h-1zM1364 840h1v1h-1zM1365 841h1v1h-1zM1366 842h1v2h-1zM1367 844h1v1h-1zM1368 845h1v1h-1zM1369 846h1v1h-1zM1389 847h1v1h-1zM1394 850h1v1h-1zM1411 845h1v1h-1zM1412 846h1v2h-1zM1413 848h1v1h-1zM1414 849h1v1h-1zM1415 850h1v1h-1zM1416 851h1v2h-1zM1418 854h1v1h-1zM1419 850h1v3h-1zM1420 848h1v2h-1zM1421 845h1v3h-1zM1422 842h1v3h-1zM1423 839h1v3h-1zM1424 837h1v2h-1zM1425 834h1v3h-1zM1426 832h1v2h-1z" fill="#1e90ff" shape-rendering="crispEdges"/>
<line x1="1340" y1="845.5" x2="1414.4" y2="848.26" stroke="#ff0000" stroke-width="3.2"/>
<polygon points="1421,848.5 1409.82,853.09 1412.21,848.17 1410.19,843.1" fill="#ff0000"/>
<line x1="1421.5" y1="851" x2="1434.17" y2="827.29" stroke="#ff0000" stroke-width="3.2"/>
<polygon points="1437,822 1436.7,833.18 1433.23,829.06 1427.88,828.46" fill="#ff0000"/>
</g>
<text x="-1" y="761.2" font-size="10" fill="#000" textLength="67" lengthAdjust="spacingAndGlyphs">RSI(14) 52.8576</text>
<g shape-rendering="crispEdges" fill="#000">
<rect x="0" y="21" width="1653" height="1"/>
<rect x="1652" y="21" width="1" height="554"/>
<rect x="0" y="574" width="1653" height="1"/>
<rect x="0" y="576" width="1653" height="1"/>
<rect x="1652" y="576" width="1" height="171"/>
<rect x="0" y="746" width="1653" height="1"/>
<rect x="0" y="748" width="1653" height="1"/>
<rect x="1652" y="748" width="1" height="175"/>
<rect x="0" y="922" width="1653" height="1"/>
<rect x="1653" y="43" width="2" height="1"/>
<rect x="1653" y="77" width="2" height="1"/>
<rect x="1653" y="109" width="2" height="1"/>
<rect x="1653" y="142" width="2" height="1"/>
<rect x="1653" y="176" width="2" height="1"/>
<rect x="1653" y="208" width="2" height="1"/>
<rect x="1653" y="241" width="2" height="1"/>
<rect x="1653" y="274" width="2" height="1"/>
<rect x="1653" y="307" width="2" height="1"/>
<rect x="1653" y="340" width="2" height="1"/>
<rect x="1653" y="373" width="2" height="1"/>
<rect x="1653" y="406" width="2" height="1"/>
<rect x="1653" y="438" width="2" height="1"/>
<rect x="1653" y="472" width="2" height="1"/>
<rect x="1653" y="505" width="2" height="1"/>
<rect x="1653" y="538" width="2" height="1"/>
<rect x="1653" y="571" width="2" height="1"/>
<rect x="1653" y="626" width="3" height="1"/>
<rect x="1653" y="784" width="3" height="1"/>
<rect x="1653" y="835" width="3" height="1"/>
<rect x="1653" y="896" width="3" height="1"/>
<rect x="-6" y="923" width="1" height="3"/>
<rect x="58" y="923" width="1" height="3"/>
<rect x="122" y="923" width="1" height="3"/>
<rect x="186" y="923" width="1" height="3"/>
<rect x="250" y="923" width="1" height="3"/>
<rect x="314" y="923" width="1" height="3"/>
<rect x="378" y="923" width="1" height="3"/>
<rect x="442" y="923" width="1" height="3"/>
<rect x="506" y="923" width="1" height="3"/>
<rect x="570" y="923" width="1" height="3"/>
<rect x="634" y="923" width="1" height="3"/>
<rect x="698" y="923" width="1" height="3"/>
<rect x="762" y="923" width="1" height="3"/>
<rect x="826" y="923" width="1" height="3"/>
<rect x="890" y="923" width="1" height="3"/>
<rect x="954" y="923" width="1" height="3"/>
<rect x="1018" y="923" width="1" height="3"/>
<rect x="1082" y="923" width="1" height="3"/>
<rect x="1146" y="923" width="1" height="3"/>
<rect x="1210" y="923" width="1" height="3"/>
<rect x="1274" y="923" width="1" height="3"/>
<rect x="1338" y="923" width="1" height="3"/>
<rect x="1402" y="923" width="1" height="3"/>
</g>
<text x="1658" y="47.25" font-size="10" fill="#000" textLength="33" lengthAdjust="spacingAndGlyphs">29442.0</text>
<text x="1658" y="80.56" font-size="10" fill="#000" textLength="33" lengthAdjust="spacingAndGlyphs">29127.0</text>
<text x="1658" y="112.92" font-size="10" fill="#000" textLength="33" lengthAdjust="spacingAndGlyphs">28821.0</text>
<text x="1658" y="146.23" font-size="10" fill="#000" textLength="33" lengthAdjust="spacingAndGlyphs">28506.0</text>
<text x="1658" y="179.54" font-size="10" fill="#000" textLength="33" lengthAdjust="spacingAndGlyphs">28191.0</text>
<text x="1658" y="211.9" font-size="10" fill="#000" textLength="33" lengthAdjust="spacingAndGlyphs">27885.0</text>
<text x="1658" y="245.21" font-size="10" fill="#000" textLength="33" lengthAdjust="spacingAndGlyphs">27570.0</text>
<text x="1658" y="277.57" font-size="10" fill="#000" textLength="33" lengthAdjust="spacingAndGlyphs">27264.0</text>
<text x="1658" y="310.88" font-size="10" fill="#000" textLength="33" lengthAdjust="spacingAndGlyphs">26949.0</text>
<text x="1658" y="344.2" font-size="10" fill="#000" textLength="33" lengthAdjust="spacingAndGlyphs">26634.0</text>
<text x="1658" y="376.56" font-size="10" fill="#000" textLength="33" lengthAdjust="spacingAndGlyphs">26328.0</text>
<text x="1658" y="409.87" font-size="10" fill="#000" textLength="33" lengthAdjust="spacingAndGlyphs">26013.0</text>
<text x="1658" y="442.23" font-size="10" fill="#000" textLength="33" lengthAdjust="spacingAndGlyphs">25707.0</text>
<text x="1658" y="475.54" font-size="10" fill="#000" textLength="33" lengthAdjust="spacingAndGlyphs">25392.0</text>
<text x="1658" y="508.85" font-size="10" fill="#000" textLength="33" lengthAdjust="spacingAndGlyphs">25077.0</text>
<text x="1658" y="542.16" font-size="10" fill="#000" textLength="33" lengthAdjust="spacingAndGlyphs">24762.0</text>
<text x="1658" y="574.52" font-size="10" fill="#000" textLength="33" lengthAdjust="spacingAndGlyphs">24456.0</text>
<text x="1656" y="587" font-size="10" fill="#000" textLength="28" lengthAdjust="spacingAndGlyphs">275.75</text>
<text x="1656" y="629.5" font-size="10" fill="#000" textLength="18" lengthAdjust="spacingAndGlyphs">0.00</text>
<text x="1655" y="742.8" font-size="10" fill="#000" textLength="30" lengthAdjust="spacingAndGlyphs">-698.77</text>
<text x="1656" y="759.5" font-size="10" fill="#000" textLength="15" lengthAdjust="spacingAndGlyphs">100</text>
<text x="1656" y="788" font-size="10" fill="#000" textLength="10" lengthAdjust="spacingAndGlyphs">80</text>
<text x="1656" y="839" font-size="10" fill="#000" textLength="10" lengthAdjust="spacingAndGlyphs">50</text>
<text x="1656" y="900" font-size="10" fill="#000" textLength="10" lengthAdjust="spacingAndGlyphs">15</text>
<text x="1657" y="919" font-size="10" fill="#000" textLength="5" lengthAdjust="spacingAndGlyphs">0</text>
<rect x="1654" y="381" width="41" height="11" fill="#ff0000" shape-rendering="crispEdges"/>
<text x="1658" y="390" font-size="10" fill="#fff" textLength="33" lengthAdjust="spacingAndGlyphs">26193.3</text>
<rect x="1647.5" y="385.5" width="4" height="4" fill="#fff" stroke="#ff0000" stroke-width="1" shape-rendering="crispEdges"/>
<rect x="1654" y="404" width="41" height="11" fill="#ff0000" shape-rendering="crispEdges"/>
<text x="1658" y="413" font-size="10" fill="#fff" textLength="33" lengthAdjust="spacingAndGlyphs">25976.3</text>
<rect x="1647.5" y="408.5" width="4" height="4" fill="#fff" stroke="#ff0000" stroke-width="1" shape-rendering="crispEdges"/>
<rect x="1654" y="428" width="41" height="11" fill="#000" shape-rendering="crispEdges"/>
<text x="1658" y="437" font-size="10" fill="#fff" textLength="33" lengthAdjust="spacingAndGlyphs">25748.0</text>
<rect x="1654" y="439" width="41" height="11" fill="#32cd32" shape-rendering="crispEdges"/>
<text x="1658" y="448" font-size="10" fill="#fff" textLength="33" lengthAdjust="spacingAndGlyphs">25646.1</text>
<rect x="1647.5" y="443.5" width="4" height="4" fill="#fff" stroke="#32cd32" stroke-width="1" shape-rendering="crispEdges"/>
<rect x="1654" y="460" width="41" height="11" fill="#0000ff" shape-rendering="crispEdges"/>
<text x="1658" y="469" font-size="10" fill="#fff" textLength="33" lengthAdjust="spacingAndGlyphs">25448.0</text>
<rect x="1647.5" y="464.5" width="4" height="4" fill="#fff" stroke="#0000ff" stroke-width="1" shape-rendering="crispEdges"/>
<rect x="1654" y="487" width="41" height="11" fill="#0000ff" shape-rendering="crispEdges"/>
<text x="1658" y="496" font-size="10" fill="#fff" textLength="33" lengthAdjust="spacingAndGlyphs">25193.2</text>
<text x="-7" y="935.5" font-size="10" fill="#000" textLength="51.24" lengthAdjust="spacingAndGlyphs">22 Apr 2021</text>
<text x="57" y="935.5" font-size="10" fill="#000" textLength="53.88" lengthAdjust="spacingAndGlyphs">28 Apr 05:00</text>
<text x="121" y="935.5" font-size="10" fill="#000" textLength="52.28" lengthAdjust="spacingAndGlyphs">4 May 05:00</text>
<text x="185" y="935.5" font-size="10" fill="#000" textLength="57.56" lengthAdjust="spacingAndGlyphs">10 May 05:00</text>
<text x="249" y="935.5" font-size="10" fill="#000" textLength="57.56" lengthAdjust="spacingAndGlyphs">14 May 05:00</text>
<text x="313" y="935.5" font-size="10" fill="#000" textLength="57.56" lengthAdjust="spacingAndGlyphs">21 May 05:00</text>
<text x="377" y="935.5" font-size="10" fill="#000" textLength="57.56" lengthAdjust="spacingAndGlyphs">27 May 05:00</text>
<text x="441" y="935.5" font-size="10" fill="#000" textLength="49.65" lengthAdjust="spacingAndGlyphs">2 Jun 05:00</text>
<text x="505" y="935.5" font-size="10" fill="#000" textLength="49.65" lengthAdjust="spacingAndGlyphs">8 Jun 05:00</text>
<text x="569" y="935.5" font-size="10" fill="#000" textLength="54.93" lengthAdjust="spacingAndGlyphs">15 Jun 05:00</text>
<text x="633" y="935.5" font-size="10" fill="#000" textLength="54.93" lengthAdjust="spacingAndGlyphs">21 Jun 05:00</text>
<text x="697" y="935.5" font-size="10" fill="#000" textLength="54.93" lengthAdjust="spacingAndGlyphs">25 Jun 05:00</text>
<text x="761" y="935.5" font-size="10" fill="#000" textLength="46.48" lengthAdjust="spacingAndGlyphs">5 Jul 01:15</text>
<text x="825" y="935.5" font-size="10" fill="#000" textLength="46.48" lengthAdjust="spacingAndGlyphs">9 Jul 01:15</text>
<text x="889" y="935.5" font-size="10" fill="#000" textLength="51.76" lengthAdjust="spacingAndGlyphs">15 Jul 01:15</text>
<text x="953" y="935.5" font-size="10" fill="#000" textLength="51.76" lengthAdjust="spacingAndGlyphs">21 Jul 01:15</text>
<text x="1017" y="935.5" font-size="10" fill="#000" textLength="51.76" lengthAdjust="spacingAndGlyphs">27 Jul 01:15</text>
<text x="1081" y="935.5" font-size="10" fill="#000" textLength="50.71" lengthAdjust="spacingAndGlyphs">2 Aug 01:15</text>
<text x="1145" y="935.5" font-size="10" fill="#000" textLength="50.71" lengthAdjust="spacingAndGlyphs">6 Aug 01:15</text>
<text x="1209" y="935.5" font-size="10" fill="#000" textLength="55.99" lengthAdjust="spacingAndGlyphs">12 Aug 01:15</text>
<text x="1273" y="935.5" font-size="10" fill="#000" textLength="55.99" lengthAdjust="spacingAndGlyphs">18 Aug 01:15</text>
<text x="1337" y="935.5" font-size="10" fill="#000" textLength="55.99" lengthAdjust="spacingAndGlyphs">24 Aug 01:15</text>
<text x="1401" y="935.5" font-size="10" fill="#000" textLength="55.99" lengthAdjust="spacingAndGlyphs">30 Aug 01:15</text>
<path d="M1431 22 L1441 22 L1436 27 Z" fill="#c0c0c0"/>
<rect x="1698" y="19" width="1" height="920" fill="#e8e8e8"/>
<g>
<rect x="0" y="40" width="218" height="60" fill="#fff"/>
<rect x="0" y="41" width="48.5" height="24.5" fill="url(#gTop)"/>
<rect x="164" y="41" width="52" height="24.5" fill="url(#gTop)"/>
<rect x="0" y="65" width="106" height="33" fill="url(#gBot)"/>
<rect x="108" y="65" width="108" height="33" fill="url(#gBot)"/>
<path d="M0 41.5H48.5M164 41.5H216" stroke="#c81414" stroke-width="1" fill="none"/>
<path d="M215.5 41V98M105.5 65V98M108.5 65V98M48 41V65M164.5 41V65" stroke="#c01010" stroke-width="1" fill="none" opacity="0.7"/>
<path d="M0 97.5H106M108 97.5H216" stroke="#a00000" stroke-width="1" fill="none"/>
<path d="M1 64.5H45M168 64.5H212" stroke="#a80808" stroke-width="1" fill="none"/>
<path d="M1 65.5H45M168 65.5H212" stroke="#f07070" stroke-width="1" fill="none"/>
<text x="9" y="56.9" font-size="12" fill="#fff" textLength="26" lengthAdjust="spacingAndGlyphs">SELL</text>
<text x="177.5" y="56.9" font-size="12" fill="#fff" textLength="23.5" lengthAdjust="spacingAndGlyphs">BUY</text>
<rect x="51.5" y="41.5" width="110" height="21" fill="#fff" stroke="#a3abb3" stroke-width="1"/>
<rect x="53" y="43" width="19" height="18" fill="url(#gBtn)"/>
<rect x="141.5" y="43" width="19" height="18" fill="url(#gBtn)"/>
<path d="M72.5 42V62M140.5 42V62" stroke="#a3abb3" stroke-width="1"/>
<path d="M59 50 L64.5 50 L61.75 53.2 Z" fill="#5a74c8"/>
<path d="M148 52.8 L153.6 52.8 L150.8 49.6 Z" fill="#5a74c8"/>
<text x="137.5" y="56.2" font-size="12.5" fill="#000" text-anchor="end" textLength="24" lengthAdjust="spacingAndGlyphs">1.00</text>
<text x="13" y="93" font-size="12.5" fill="#fff" font-weight="bold" textLength="35" lengthAdjust="spacingAndGlyphs">25746</text>
<text x="123" y="93" font-size="12.5" fill="#fff" font-weight="bold" textLength="35" lengthAdjust="spacingAndGlyphs">25761</text>
<rect x="52" y="88.6" width="4.6" height="4.4" rx="1.3" fill="#fff"/>
<rect x="163.2" y="88.6" width="4.6" height="4.4" rx="1.3" fill="#fff"/>
<text x="59.2" y="93" font-size="35" fill="#fff" textLength="16.6" lengthAdjust="spacingAndGlyphs" stroke="url(#gBot)" stroke-width="0.55">5</text>
<text x="170.2" y="93" font-size="35" fill="#fff" textLength="16.6" lengthAdjust="spacingAndGlyphs" stroke="url(#gBot)" stroke-width="0.55">5</text>
</g>
<g>
<rect x="0" y="0" width="1699" height="17" fill="#f0f0f0"/>
<rect x="0" y="17" width="1699" height="1" fill="#b9b9b9"/>
<rect x="0" y="18" width="1699" height="1" fill="#6a6a6a"/>
<rect x="0" y="19" width="1699" height="2" fill="#fcfcfc"/>
<rect x="289" y="0" width="23" height="14" fill="#f8f8f8"/>
<rect x="439" y="0" width="25" height="14" fill="#f8f8f8"/>
<rect x="628" y="0" width="24" height="14" fill="#f8f8f8"/>
<rect x="1073" y="0" width="25" height="14" fill="#f8f8f8"/>
<rect x="13" y="0" width="1" height="14" fill="#a8a8a8" shape-rendering="crispEdges"/>
<rect x="249" y="0" width="1" height="14" fill="#a8a8a8" shape-rendering="crispEdges"/>
<rect x="287" y="0" width="1" height="14" fill="#a8a8a8" shape-rendering="crispEdges"/>
<rect x="344" y="0" width="1" height="14" fill="#a8a8a8" shape-rendering="crispEdges"/>
<rect x="434" y="0" width="1" height="14" fill="#a8a8a8" shape-rendering="crispEdges"/>
<rect x="467" y="0" width="1" height="14" fill="#a8a8a8" shape-rendering="crispEdges"/>
<rect x="496" y="0" width="1" height="14" fill="#a8a8a8" shape-rendering="crispEdges"/>
<rect x="617" y="0" width="1" height="14" fill="#a8a8a8" shape-rendering="crispEdges"/>
<rect x="627" y="0" width="1" height="14" fill="#a8a8a8" shape-rendering="crispEdges"/>
<rect x="684" y="0" width="1" height="14" fill="#a8a8a8" shape-rendering="crispEdges"/>
<rect x="923" y="0" width="1" height="14" fill="#a8a8a8" shape-rendering="crispEdges"/>
<rect x="1184" y="0" width="1" height="14" fill="#a8a8a8" shape-rendering="crispEdges"/>
<rect x="253" y="1" width="3" height="1" fill="#b4b4b4" shape-rendering="crispEdges"/>
<rect x="253" y="3" width="3" height="1" fill="#b4b4b4" shape-rendering="crispEdges"/>
<rect x="253" y="5" width="3" height="1" fill="#b4b4b4" shape-rendering="crispEdges"/>
<rect x="253" y="7" width="3" height="1" fill="#b4b4b4" shape-rendering="crispEdges"/>
<rect x="253" y="9" width="3" height="1" fill="#b4b4b4" shape-rendering="crispEdges"/>
<rect x="253" y="11" width="3" height="1" fill="#b4b4b4" shape-rendering="crispEdges"/>
<rect x="253" y="13" width="3" height="1" fill="#b4b4b4" shape-rendering="crispEdges"/>
<rect x="621" y="1" width="3" height="1" fill="#b4b4b4" shape-rendering="crispEdges"/>
<rect x="621" y="3" width="3" height="1" fill="#b4b4b4" shape-rendering="crispEdges"/>
<rect x="621" y="5" width="3" height="1" fill="#b4b4b4" shape-rendering="crispEdges"/>
<rect x="621" y="7" width="3" height="1" fill="#b4b4b4" shape-rendering="crispEdges"/>
<rect x="621" y="9" width="3" height="1" fill="#b4b4b4" shape-rendering="crispEdges"/>
<rect x="621" y="11" width="3" height="1" fill="#b4b4b4" shape-rendering="crispEdges"/>
<rect x="621" y="13" width="3" height="1" fill="#b4b4b4" shape-rendering="crispEdges"/>
<rect x="927" y="1" width="3" height="1" fill="#b4b4b4" shape-rendering="crispEdges"/>
<rect x="927" y="3" width="3" height="1" fill="#b4b4b4" shape-rendering="crispEdges"/>
<rect x="927" y="5" width="3" height="1" fill="#b4b4b4" shape-rendering="crispEdges"/>
<rect x="927" y="7" width="3" height="1" fill="#b4b4b4" shape-rendering="crispEdges"/>
<rect x="927" y="9" width="3" height="1" fill="#b4b4b4" shape-rendering="crispEdges"/>
<rect x="927" y="11" width="3" height="1" fill="#b4b4b4" shape-rendering="crispEdges"/>
<rect x="927" y="13" width="3" height="1" fill="#b4b4b4" shape-rendering="crispEdges"/>
<path d="M0.5 8.5 L5 13.6" stroke="#c89a2a" stroke-width="2.4" fill="none"/><circle cx="-2.2" cy="4" r="4.3" fill="#dfefff" stroke="#7a9ad0" stroke-width="1.3"/>
<rect x="23.5" y="-2" width="10.5" height="12" fill="#fff" stroke="#8a8a8a" stroke-width="1"/>
<path d="M25.5 2.5H31M25.5 5H31" stroke="#9a9a9a" stroke-width="1"/>
<path d="M32.7 3.4V14.8M27 9.1H38.8" stroke="#168a16" stroke-width="4.4" fill="none"/>
<path d="M32.7 4.3V13.9M27.9 9.1H37.9" stroke="#35d035" stroke-width="2.4" fill="none"/>
<text x="42" y="8.4" font-size="12" fill="#000" textLength="36" lengthAdjust="spacingAndGlyphs" font-family='"Liberation Sans", "Noto Sans CJK SC", sans-serif'>新订单</text>
<path d="M90 6 L98.2 11.2 L106 5.6 L106 7.8 L98.2 13 L90 7.6 Z" fill="#a87410"/>
<path d="M90 6 L95 -1.5 L101 -1.5 L106 5.6 L98.2 11.2 Z" fill="#e6b030"/>
<path d="M91 6.8 L98.2 11.6 L105.2 6.6" stroke="#f8e8b0" stroke-width="0.9" fill="none"/>
<path d="M93 4 L96 -1 L99 -1 L100.5 2 Z" fill="#f4cc58"/>
<rect x="120.5" y="-2" width="10" height="8" fill="#3a8ee0"/>
<path d="M123 1.5H128M123 3.5H128" stroke="#cfe6ff" stroke-width="0.9"/>
<path d="M120 12.3 Q116.8 11.5 118.2 8.6 Q119 6.6 121.5 7 Q123 4.4 126.3 5.6 Q129.5 4.6 130.6 7.4 Q134.4 7.2 134 10.2 Q133.6 12.5 131 12.3 Z" fill="#f2f5fa" stroke="#6f88b8" stroke-width="0.9"/>
<path d="M120 11.4 H131.5" stroke="#b8c6dc" stroke-width="1"/>
<path d="M154.5 4.5 L154.5 12.6 A8 8 0 0 0 161.6 7.5 Z" fill="#7cc07c"/>
<path d="M149.4 10.6 A7.6 7.6 0 0 1 149.4 -1.6" fill="none" stroke="#86a8e0" stroke-width="1.1"/>
<path d="M151.4 8.2 A4.8 4.8 0 0 1 151.4 0.8" fill="none" stroke="#5f8cdc" stroke-width="1.1"/>
<path d="M158.6 -1.6 A7.6 7.6 0 0 1 161.6 6.5" fill="none" stroke="#86a8e0" stroke-width="1.1"/>
<path d="M157 1 A4.6 4.6 0 0 1 158.8 5.5" fill="none" stroke="#5f8cdc" stroke-width="1.1"/>
<circle cx="154.3" cy="4.4" r="1.9" fill="#2a5ed0"/>
<path d="M154.5 5.5 V12.6" stroke="#22a022" stroke-width="1.4"/>
<path d="M173.5 3 L189 3 L183.5 12.4 L179.5 12.4 Z" fill="#f0cc38" stroke="#b89018" stroke-width="0.8"/>
<path d="M175 4 L181 4 L180 11 Z" fill="#fae878"/>
<ellipse cx="181" cy="1" rx="8" ry="3.2" fill="#58b0e8" stroke="#2a7ec0" stroke-width="0.8"/>
<ellipse cx="181.5" cy="-0.2" rx="4" ry="1.6" fill="#a8dcf8"/>
<circle cx="185.4" cy="8.6" r="4.3" fill="#d82414"/>
<rect x="183.8" y="7" width="3.3" height="3.3" fill="#fff"/>
<text x="194.5" y="8.4" font-size="12" fill="#000" textLength="46.5" lengthAdjust="spacingAndGlyphs" font-family='"Liberation Sans", "Noto Sans CJK SC", sans-serif'>自动交易</text>
<path d="M268.5 0V12.5M265 10.5H279M277 8.5L279 10.5L277 12.5" stroke="#404040" stroke-width="1.2" fill="none"/>
<path d="M274.5 0V8M274.5 1.5H277M272 6.5H274.5" stroke="#1a9a1a" stroke-width="1.6" fill="none"/>
<path d="M297.5 0V12.5M294 10.5H308M306 8.5L308 10.5L306 12.5" stroke="#404040" stroke-width="1.2" fill="none"/>
<rect x="300" y="-2" width="5" height="8" fill="#22b022" stroke="#0a7a0a" stroke-width="0.8"/><path d="M302.5 6V9" stroke="#0a7a0a" stroke-width="1"/>
<path d="M324.5 0V12.5M321 10.5H335M333 8.5L335 10.5L333 12.5" stroke="#404040" stroke-width="1.2" fill="none"/>
<path d="M324 8 Q327 -1 330 2 Q332 4 334 6" stroke="#1a9a1a" stroke-width="1.3" fill="none"/>
<path d="M362 6 L368 12" stroke="#c89a2a" stroke-width="2.6" fill="none" stroke-linecap="round"/>
<circle cx="359" cy="2" r="5.3" fill="#cfe6ff" stroke="#4a86d8" stroke-width="1.5"/>
<path d="M356 2H362" stroke="#2a62c0" stroke-width="1.6"/>
<path d="M359 -1V5" stroke="#2a62c0" stroke-width="1.6"/>
<path d="M390 6 L396 12" stroke="#c89a2a" stroke-width="2.6" fill="none" stroke-linecap="round"/>
<circle cx="387" cy="2" r="5.3" fill="#cfe6ff" stroke="#4a86d8" stroke-width="1.5"/>
<path d="M384 2H390" stroke="#2a62c0" stroke-width="1.6"/>
<rect x="409" y="-2" width="7.5" height="6" fill="#7ac040"/><rect x="417.5" y="-2" width="7.5" height="6" fill="#3a78d8"/>
<rect x="409" y="5" width="7.5" height="8" fill="#3a78d8"/><rect x="417.5" y="5" width="7.5" height="8" fill="#58a828"/>
<path d="M411 1.5H415M419.5 1.5H423.5M411 9.5H415M419.5 9.5H423.5" stroke="#fff" stroke-width="1.4"/>
<path d="M448.5 0V12.5M445 10.5H459M457 8.5L459 10.5L457 12.5" stroke="#404040" stroke-width="1.2" fill="none"/>
<path d="M452 1 L452 8 L457 4.5 Z" fill="#22b022" stroke="#0a7a0a" stroke-width="0.6"/>
<path d="M475.5 0V12.5M472 10.5H486M484 8.5L486 10.5L484 12.5" stroke="#404040" stroke-width="1.2" fill="none"/>
<path d="M481.5 0V9" stroke="#2a62c0" stroke-width="1.2"/><path d="M487 4.5H483M485 2.5L483 4.5L485 6.5" stroke="#d04010" stroke-width="1.2" fill="none"/>
<rect x="507.5" y="-2" width="9" height="11" fill="#fff" stroke="#8a8a8a" stroke-width="1"/>
<path d="M516.5 3.5V14M511.3 8.7H521.7" stroke="#1a9a1a" stroke-width="4" fill="none"/>
<path d="M516.5 4.3V13.2M512.1 8.7H520.9" stroke="#3fd03f" stroke-width="2" fill="none"/>
<path d="M528.0 4 L533.0 4 L530.5 7 Z" fill="#000"/>
<circle cx="552" cy="4" r="7" fill="#f4f8ff" stroke="#2a6ad0" stroke-width="2.2"/>
<path d="M552 0V4.5H555.5" stroke="#606060" stroke-width="1.2" fill="none"/>
<path d="M567.0 4 L572.0 4 L569.5 7 Z" fill="#000"/>
<rect x="583.5" y="-2" width="15" height="13" fill="#fff" stroke="#5a90d8" stroke-width="1.2"/>
<path d="M585 4 L588 2.5 L591 3.5 L594 1.5 L597 2" stroke="#b03010" stroke-width="1.1" fill="none"/>
<path d="M584 5.8H598" stroke="#5a90d8" stroke-width="1"/>
<path d="M585 9.5 L588 8 L591 9.5 L594 7.5 L597 9" stroke="#1a9a1a" stroke-width="1.1" fill="none"/>
<path d="M605.5 4 L610.5 4 L608 7 Z" fill="#000"/>
<path d="M635.5 -2 L635.5 9.5 L638 7.5 L640 12 L641.8 11.2 L639.8 6.8 L643 6.5 Z" fill="#404040"/>
<path d="M667.5 0V12M660 5.5H666M669 5.5H675" stroke="#404040" stroke-width="1.1" fill="none"/>
<path d="M701.5 0V12" stroke="#505050" stroke-width="1.2"/>
<path d="M724 5.5H736" stroke="#505050" stroke-width="1.2"/>
<path d="M752 12 L764 0" stroke="#505050" stroke-width="1.2"/>
<path d="M778 10 L789 0M780 12 L792 1M781 4H791M779 8H789" stroke="#606060" stroke-width="1" fill="none"/>
<text x="789" y="13.6" font-size="6.5" fill="#303030" font-weight="bold">E</text>
<path d="M807 1.5H820M807 5H820M807 8.5H816" stroke="#606060" stroke-width="1" stroke-dasharray="1.2 1"/>
<text x="817" y="13.6" font-size="6.5" fill="#303030" font-weight="bold">F</text>
<text x="837.3" y="10.2" font-size="12.5" fill="#585858" textLength="8.6" lengthAdjust="spacingAndGlyphs" stroke="#585858" stroke-width="0.3">A</text>
<rect x="864.5" y="1.5" width="11" height="10.5" fill="none" stroke="#707070" stroke-width="1" stroke-dasharray="1 1"/>
<text x="866.6" y="10.4" font-size="11" fill="#585858" stroke="#585858" stroke-width="0.3">T</text>
<path d="M894.5 -1 L897.5 2 L894.5 5 L891.5 2 Z" fill="#404040"/><path d="M901.5 6 L904.5 9 L901.5 12 L898.5 9 Z" fill="#404040"/>
<path d="M893 6 L896 8.5 L900 3.5" stroke="#404040" stroke-width="1.3" fill="none"/>
<path d="M912.0 4 L917.0 4 L914.5 7 Z" fill="#000"/>
<text x="945" y="8.9" font-size="9.5" fill="#3c3c3c" text-anchor="middle" textLength="13" lengthAdjust="spacingAndGlyphs">M1</text>
<text x="972.8" y="8.9" font-size="9.5" fill="#3c3c3c" text-anchor="middle" textLength="12.6" lengthAdjust="spacingAndGlyphs">M5</text>
<text x="1001.4" y="8.9" font-size="9.5" fill="#3c3c3c" text-anchor="middle" textLength="18" lengthAdjust="spacingAndGlyphs">M15</text>
<text x="1029.3" y="8.9" font-size="9.5" fill="#3c3c3c" text-anchor="middle" textLength="18" lengthAdjust="spacingAndGlyphs">M30</text>
<text x="1057.5" y="8.9" font-size="9.5" fill="#3c3c3c" text-anchor="middle" textLength="11.8" lengthAdjust="spacingAndGlyphs">H1</text>
<text x="1084.8" y="8.9" font-size="9.5" fill="#3c3c3c" text-anchor="middle" textLength="12.4" lengthAdjust="spacingAndGlyphs">H4</text>
<text x="1113.4" y="8.9" font-size="9.5" fill="#3c3c3c" text-anchor="middle" textLength="12.6" lengthAdjust="spacingAndGlyphs">D1</text>
<text x="1142.4" y="8.9" font-size="9.5" fill="#3c3c3c" text-anchor="middle" textLength="14.6" lengthAdjust="spacingAndGlyphs">W1</text>
<text x="1169" y="8.9" font-size="9.5" fill="#3c3c3c" text-anchor="middle" textLength="14.8" lengthAdjust="spacingAndGlyphs">MN</text>
<circle cx="1654.3" cy="1" r="4" fill="#f4f8ff" stroke="#2a5ed0" stroke-width="1.4"/><path d="M1651.6 4 L1646.8 9.4" stroke="#2a5ed0" stroke-width="2.4"/>
<path d="M1672 7.6 Q1670.4 1.4 1678 1.4 Q1685 1.4 1684 7 Q1683 10.6 1677 10.2 L1674.4 13.4 L1674.6 9.8 Q1672.6 9.2 1672 7.6 Z" fill="#fbfbfb" stroke="#b4b4b4" stroke-width="0.9"/>
<path d="M1673.5 9.6 Q1678 11.4 1682.5 9" stroke="#d0d0d0" stroke-width="1" fill="none"/>
<circle cx="1685.5" cy="1.5" r="8.6" fill="#dd3018"/>
<text x="1685.6" y="7" font-size="14" fill="#fff" text-anchor="middle" font-weight="bold" font-family='"Liberation Serif", serif'>1</text>
</g>
</svg>
</body></html>
